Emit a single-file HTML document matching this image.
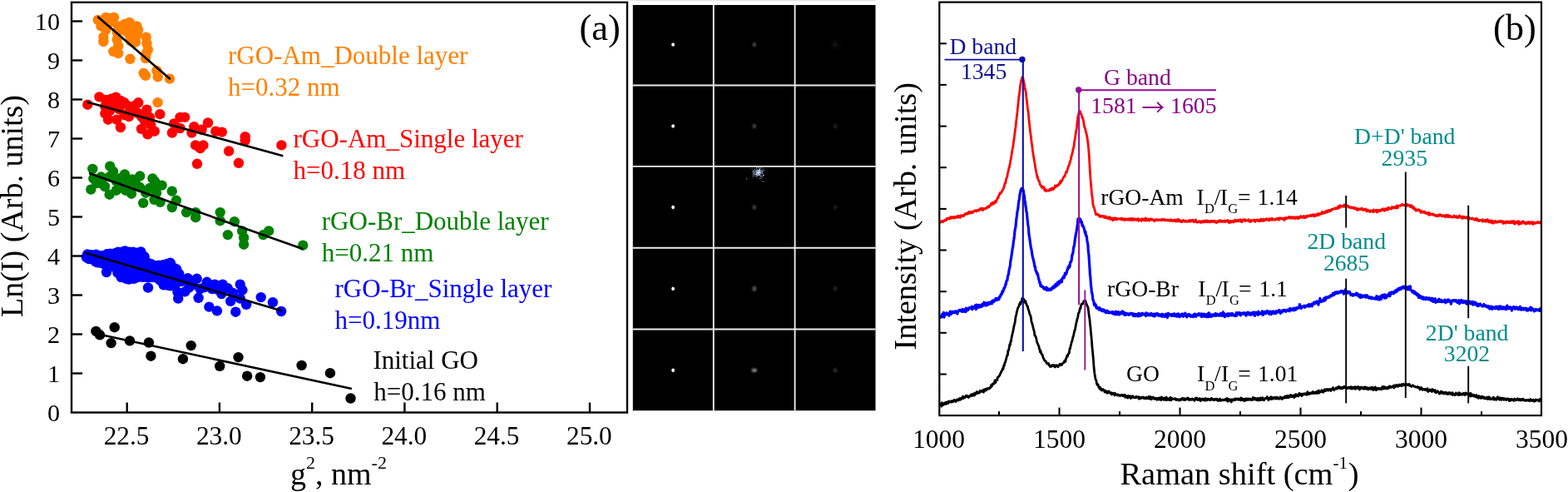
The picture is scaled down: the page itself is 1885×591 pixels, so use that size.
<!DOCTYPE html>
<html><head><meta charset="utf-8"><title>Figure</title>
<style>html,body{margin:0;padding:0;background:#fff;overflow:hidden;}svg{display:block;}text{font-family:'Liberation Serif','Times New Roman',serif;}</style>
</head><body>
<svg width="1885" height="591" viewBox="0 0 1885 591" font-family="'Liberation Serif','Times New Roman',serif">
<rect width="1885" height="591" fill="#fff"/>
<g id="panelA">
<g fill="#FF8000"><circle cx="117.7" cy="23.9" r="6.2"/><circle cx="127.3" cy="20.9" r="6.2"/><circle cx="121.4" cy="31.4" r="6.2"/><circle cx="127.3" cy="35.8" r="6.2"/><circle cx="124.4" cy="44.7" r="6.2"/><circle cx="124.4" cy="50.0" r="6.2"/><circle cx="137.0" cy="20.9" r="6.2"/><circle cx="142.2" cy="31.4" r="6.2"/><circle cx="140.7" cy="38.8" r="6.2"/><circle cx="140.7" cy="47.7" r="6.2"/><circle cx="142.2" cy="55.2" r="6.2"/><circle cx="136.3" cy="61.9" r="6.2"/><circle cx="142.2" cy="64.1" r="6.2"/><circle cx="132.0" cy="27.0" r="6.2"/><circle cx="133.0" cy="22.0" r="6.2"/><circle cx="155.6" cy="26.9" r="6.2"/><circle cx="164.5" cy="31.4" r="6.2"/><circle cx="151.1" cy="37.3" r="6.2"/><circle cx="155.6" cy="41.8" r="6.2"/><circle cx="164.5" cy="41.8" r="6.2"/><circle cx="163.1" cy="50.7" r="6.2"/><circle cx="157.1" cy="49.2" r="6.2"/><circle cx="160.0" cy="35.0" r="6.2"/><circle cx="150.0" cy="29.0" r="6.2"/><circle cx="158.0" cy="31.0" r="6.2"/><circle cx="166.0" cy="36.0" r="6.2"/><circle cx="156.4" cy="70.8" r="6.2"/><circle cx="175.7" cy="44.7" r="6.2"/><circle cx="176.4" cy="52.2" r="6.2"/><circle cx="177.9" cy="59.6" r="6.2"/><circle cx="175.0" cy="70.1" r="6.2"/><circle cx="176.0" cy="64.0" r="6.2"/><circle cx="172.7" cy="87.9" r="6.2"/><circle cx="175.0" cy="90.9" r="6.2"/><circle cx="188.4" cy="84.9" r="6.2"/><circle cx="189.8" cy="92.4" r="6.2"/><circle cx="204.0" cy="94.6" r="6.2"/><circle cx="189.6" cy="123.1" r="6.2"/></g>
<g fill="#FF0000"><circle cx="105.3" cy="125.7" r="6.2"/><circle cx="119.4" cy="116.4" r="6.2"/><circle cx="133.7" cy="118.6" r="6.2"/><circle cx="139.3" cy="116.7" r="6.2"/><circle cx="126.3" cy="127.9" r="6.2"/><circle cx="126.3" cy="136.3" r="6.2"/><circle cx="130.0" cy="143.7" r="6.2"/><circle cx="136.5" cy="124.2" r="6.2"/><circle cx="140.2" cy="143.7" r="6.2"/><circle cx="144.9" cy="153.0" r="6.2"/><circle cx="149.5" cy="123.3" r="6.2"/><circle cx="149.5" cy="138.1" r="6.2"/><circle cx="155.1" cy="127.9" r="6.2"/><circle cx="160.7" cy="132.6" r="6.2"/><circle cx="166.3" cy="123.3" r="6.2"/><circle cx="166.3" cy="136.3" r="6.2"/><circle cx="176.5" cy="131.6" r="6.2"/><circle cx="173.7" cy="144.7" r="6.2"/><circle cx="181.2" cy="150.2" r="6.2"/><circle cx="170.0" cy="154.9" r="6.2"/><circle cx="177.5" cy="161.4" r="6.2"/><circle cx="185.8" cy="157.7" r="6.2"/><circle cx="192.3" cy="137.2" r="6.2"/><circle cx="206.9" cy="159.5" r="6.2"/><circle cx="209.1" cy="148.4" r="6.2"/><circle cx="216.5" cy="140.9" r="6.2"/><circle cx="222.1" cy="140.9" r="6.2"/><circle cx="216.5" cy="154.0" r="6.2"/><circle cx="233.3" cy="152.1" r="6.2"/><circle cx="230.5" cy="159.5" r="6.2"/><circle cx="242.6" cy="155.8" r="6.2"/><circle cx="250.0" cy="147.5" r="6.2"/><circle cx="259.3" cy="157.7" r="6.2"/><circle cx="266.8" cy="158.6" r="6.2"/><circle cx="235.1" cy="174.4" r="6.2"/><circle cx="244.4" cy="174.4" r="6.2"/><circle cx="240.7" cy="178.2" r="6.2"/><circle cx="237.0" cy="196.8" r="6.2"/><circle cx="275.1" cy="181.5" r="6.2"/><circle cx="294.7" cy="164.2" r="6.2"/><circle cx="294.7" cy="168.8" r="6.2"/><circle cx="286.9" cy="195.8" r="6.2"/><circle cx="338.4" cy="174.4" r="6.2"/><circle cx="132.0" cy="133.0" r="6.2"/><circle cx="143.0" cy="131.0" r="6.2"/><circle cx="155.0" cy="140.0" r="6.2"/><circle cx="162.0" cy="127.0" r="6.2"/><circle cx="170.0" cy="140.0" r="6.2"/><circle cx="180.0" cy="141.0" r="6.2"/><circle cx="145.0" cy="121.0" r="6.2"/><circle cx="127.0" cy="120.0" r="6.2"/></g>
<g fill="#008000"><circle cx="111.3" cy="202.9" r="6.2"/><circle cx="132.2" cy="199.6" r="6.2"/><circle cx="112.3" cy="214.4" r="6.2"/><circle cx="109.3" cy="227.6" r="6.2"/><circle cx="121.5" cy="212.4" r="6.2"/><circle cx="122.5" cy="220.5" r="6.2"/><circle cx="131.6" cy="212.4" r="6.2"/><circle cx="131.6" cy="233.7" r="6.2"/><circle cx="139.8" cy="217.5" r="6.2"/><circle cx="139.8" cy="228.7" r="6.2"/><circle cx="149.9" cy="209.4" r="6.2"/><circle cx="150.9" cy="228.7" r="6.2"/><circle cx="159.0" cy="215.5" r="6.2"/><circle cx="158.0" cy="232.7" r="6.2"/><circle cx="168.2" cy="211.4" r="6.2"/><circle cx="163.1" cy="220.5" r="6.2"/><circle cx="172.2" cy="243.9" r="6.2"/><circle cx="175.3" cy="231.7" r="6.2"/><circle cx="183.4" cy="214.4" r="6.2"/><circle cx="187.5" cy="220.5" r="6.2"/><circle cx="194.6" cy="222.6" r="6.2"/><circle cx="185.5" cy="239.8" r="6.2"/><circle cx="192.6" cy="242.9" r="6.2"/><circle cx="206.8" cy="229.7" r="6.2"/><circle cx="211.9" cy="240.8" r="6.2"/><circle cx="206.8" cy="249.0" r="6.2"/><circle cx="224.0" cy="255.1" r="6.2"/><circle cx="235.2" cy="255.1" r="6.2"/><circle cx="235.2" cy="261.2" r="6.2"/><circle cx="264.7" cy="255.1" r="6.2"/><circle cx="264.7" cy="265.2" r="6.2"/><circle cx="281.9" cy="266.2" r="6.2"/><circle cx="273.8" cy="282.1" r="6.2"/><circle cx="291.1" cy="277.4" r="6.2"/><circle cx="293.1" cy="285.5" r="6.2"/><circle cx="293.1" cy="293.7" r="6.2"/><circle cx="316.4" cy="282.1" r="6.2"/><circle cx="323.1" cy="277.4" r="6.2"/><circle cx="364.2" cy="294.7" r="6.2"/><circle cx="116.0" cy="220.0" r="6.2"/><circle cx="126.0" cy="224.0" r="6.2"/><circle cx="145.0" cy="222.0" r="6.2"/><circle cx="154.0" cy="220.0" r="6.2"/><circle cx="168.0" cy="225.0" r="6.2"/><circle cx="180.0" cy="226.0" r="6.2"/><circle cx="188.0" cy="232.0" r="6.2"/><circle cx="145.0" cy="214.0" r="6.2"/><circle cx="136.0" cy="206.0" r="6.2"/><circle cx="186.0" cy="218.0" r="6.2"/></g>
<g fill="#0000FF"><circle cx="103.8" cy="309.0" r="6.2"/><circle cx="106.9" cy="311.0" r="6.2"/><circle cx="117.1" cy="315.4" r="6.2"/><circle cx="121.3" cy="308.3" r="6.2"/><circle cx="128.1" cy="307.8" r="6.2"/><circle cx="138.2" cy="306.9" r="6.2"/><circle cx="137.4" cy="320.5" r="6.2"/><circle cx="145.8" cy="319.7" r="6.2"/><circle cx="150.0" cy="305.2" r="6.2"/><circle cx="159.4" cy="305.8" r="6.2"/><circle cx="168.7" cy="306.9" r="6.2"/><circle cx="172.9" cy="310.7" r="6.2"/><circle cx="148.4" cy="330.7" r="6.2"/><circle cx="156.0" cy="331.5" r="6.2"/><circle cx="162.7" cy="330.1" r="6.2"/><circle cx="157.7" cy="325.6" r="6.2"/><circle cx="166.1" cy="318.8" r="6.2"/><circle cx="178.0" cy="317.1" r="6.2"/><circle cx="174.6" cy="330.7" r="6.2"/><circle cx="188.1" cy="321.0" r="6.2"/><circle cx="189.8" cy="333.7" r="6.2"/><circle cx="196.6" cy="340.5" r="6.2"/><circle cx="205.0" cy="317.4" r="6.2"/><circle cx="211.8" cy="323.1" r="6.2"/><circle cx="215.2" cy="329.0" r="6.2"/><circle cx="206.7" cy="339.1" r="6.2"/><circle cx="105.2" cy="305.5" r="6.2"/><circle cx="106.6" cy="309.5" r="6.2"/><circle cx="109.7" cy="306.2" r="6.2"/><circle cx="110.5" cy="311.1" r="6.2"/><circle cx="115.5" cy="305.8" r="6.2"/><circle cx="114.8" cy="310.4" r="6.2"/><circle cx="114.9" cy="314.4" r="6.2"/><circle cx="120.0" cy="307.8" r="6.2"/><circle cx="119.1" cy="311.7" r="6.2"/><circle cx="119.9" cy="315.5" r="6.2"/><circle cx="123.0" cy="307.1" r="6.2"/><circle cx="123.6" cy="311.2" r="6.2"/><circle cx="124.8" cy="317.2" r="6.2"/><circle cx="128.4" cy="305.3" r="6.2"/><circle cx="127.6" cy="309.6" r="6.2"/><circle cx="128.2" cy="312.9" r="6.2"/><circle cx="128.8" cy="319.0" r="6.2"/><circle cx="132.4" cy="304.6" r="6.2"/><circle cx="132.6" cy="309.8" r="6.2"/><circle cx="133.4" cy="313.7" r="6.2"/><circle cx="133.7" cy="319.6" r="6.2"/><circle cx="137.9" cy="304.5" r="6.2"/><circle cx="137.4" cy="310.2" r="6.2"/><circle cx="138.3" cy="314.6" r="6.2"/><circle cx="138.2" cy="321.0" r="6.2"/><circle cx="142.0" cy="302.6" r="6.2"/><circle cx="142.4" cy="307.7" r="6.2"/><circle cx="142.7" cy="312.4" r="6.2"/><circle cx="142.1" cy="317.5" r="6.2"/><circle cx="142.2" cy="321.8" r="6.2"/><circle cx="141.4" cy="327.7" r="6.2"/><circle cx="147.0" cy="302.8" r="6.2"/><circle cx="147.3" cy="307.2" r="6.2"/><circle cx="147.2" cy="312.2" r="6.2"/><circle cx="147.4" cy="318.2" r="6.2"/><circle cx="146.7" cy="324.0" r="6.2"/><circle cx="147.1" cy="328.7" r="6.2"/><circle cx="145.6" cy="333.0" r="6.2"/><circle cx="150.2" cy="301.4" r="6.2"/><circle cx="150.4" cy="307.4" r="6.2"/><circle cx="150.3" cy="311.0" r="6.2"/><circle cx="151.0" cy="316.8" r="6.2"/><circle cx="151.9" cy="321.3" r="6.2"/><circle cx="150.4" cy="325.7" r="6.2"/><circle cx="151.4" cy="329.4" r="6.2"/><circle cx="151.4" cy="334.7" r="6.2"/><circle cx="155.7" cy="302.7" r="6.2"/><circle cx="155.8" cy="307.1" r="6.2"/><circle cx="155.6" cy="311.1" r="6.2"/><circle cx="155.5" cy="315.6" r="6.2"/><circle cx="155.5" cy="321.1" r="6.2"/><circle cx="156.0" cy="325.5" r="6.2"/><circle cx="154.5" cy="330.4" r="6.2"/><circle cx="154.9" cy="335.5" r="6.2"/><circle cx="159.8" cy="302.6" r="6.2"/><circle cx="160.8" cy="307.8" r="6.2"/><circle cx="159.7" cy="313.0" r="6.2"/><circle cx="160.0" cy="317.7" r="6.2"/><circle cx="160.1" cy="324.6" r="6.2"/><circle cx="160.1" cy="329.5" r="6.2"/><circle cx="160.9" cy="334.9" r="6.2"/><circle cx="165.0" cy="303.6" r="6.2"/><circle cx="165.1" cy="307.5" r="6.2"/><circle cx="164.5" cy="312.8" r="6.2"/><circle cx="164.0" cy="318.3" r="6.2"/><circle cx="164.1" cy="323.5" r="6.2"/><circle cx="164.7" cy="327.5" r="6.2"/><circle cx="164.4" cy="333.2" r="6.2"/><circle cx="169.4" cy="302.5" r="6.2"/><circle cx="168.3" cy="308.3" r="6.2"/><circle cx="168.8" cy="313.6" r="6.2"/><circle cx="168.7" cy="317.6" r="6.2"/><circle cx="169.9" cy="322.6" r="6.2"/><circle cx="168.3" cy="327.6" r="6.2"/><circle cx="168.7" cy="332.5" r="6.2"/><circle cx="173.6" cy="308.3" r="6.2"/><circle cx="172.8" cy="312.3" r="6.2"/><circle cx="173.8" cy="318.3" r="6.2"/><circle cx="174.5" cy="321.9" r="6.2"/><circle cx="173.6" cy="328.4" r="6.2"/><circle cx="172.6" cy="332.8" r="6.2"/><circle cx="177.3" cy="315.5" r="6.2"/><circle cx="178.9" cy="320.8" r="6.2"/><circle cx="177.0" cy="325.7" r="6.2"/><circle cx="177.8" cy="333.1" r="6.2"/><circle cx="182.0" cy="317.3" r="6.2"/><circle cx="182.3" cy="321.6" r="6.2"/><circle cx="182.9" cy="326.9" r="6.2"/><circle cx="182.2" cy="332.9" r="6.2"/><circle cx="187.0" cy="319.5" r="6.2"/><circle cx="187.0" cy="322.7" r="6.2"/><circle cx="186.9" cy="328.7" r="6.2"/><circle cx="187.1" cy="333.3" r="6.2"/><circle cx="190.5" cy="318.7" r="6.2"/><circle cx="192.0" cy="325.1" r="6.2"/><circle cx="191.6" cy="330.8" r="6.2"/><circle cx="192.3" cy="336.6" r="6.2"/><circle cx="196.1" cy="318.2" r="6.2"/><circle cx="196.3" cy="322.5" r="6.2"/><circle cx="196.3" cy="327.9" r="6.2"/><circle cx="196.6" cy="332.4" r="6.2"/><circle cx="195.1" cy="337.3" r="6.2"/><circle cx="196.7" cy="342.3" r="6.2"/><circle cx="200.8" cy="317.0" r="6.2"/><circle cx="200.2" cy="322.8" r="6.2"/><circle cx="199.7" cy="328.2" r="6.2"/><circle cx="201.3" cy="333.5" r="6.2"/><circle cx="199.8" cy="336.9" r="6.2"/><circle cx="201.3" cy="342.6" r="6.2"/><circle cx="204.5" cy="316.1" r="6.2"/><circle cx="205.3" cy="321.0" r="6.2"/><circle cx="205.0" cy="327.4" r="6.2"/><circle cx="205.4" cy="331.5" r="6.2"/><circle cx="205.6" cy="337.7" r="6.2"/><circle cx="204.9" cy="343.4" r="6.2"/><circle cx="209.1" cy="322.0" r="6.2"/><circle cx="208.9" cy="325.8" r="6.2"/><circle cx="208.8" cy="330.5" r="6.2"/><circle cx="210.3" cy="335.5" r="6.2"/><circle cx="208.8" cy="339.5" r="6.2"/><circle cx="210.3" cy="343.1" r="6.2"/><circle cx="204.7" cy="315.8" r="6.2"/><circle cx="212.2" cy="324.0" r="6.2"/><circle cx="213.5" cy="330.7" r="6.2"/><circle cx="204.1" cy="340.2" r="6.2"/><circle cx="213.5" cy="351.0" r="6.2"/><circle cx="214.2" cy="358.5" r="6.2"/><circle cx="222.3" cy="350.4" r="6.2"/><circle cx="225.7" cy="334.1" r="6.2"/><circle cx="227.1" cy="345.6" r="6.2"/><circle cx="236.6" cy="334.8" r="6.2"/><circle cx="238.6" cy="357.8" r="6.2"/><circle cx="240.6" cy="347.0" r="6.2"/><circle cx="248.7" cy="338.8" r="6.2"/><circle cx="258.2" cy="341.6" r="6.2"/><circle cx="267.7" cy="341.6" r="6.2"/><circle cx="273.8" cy="346.3" r="6.2"/><circle cx="266.3" cy="353.1" r="6.2"/><circle cx="277.2" cy="361.9" r="6.2"/><circle cx="251.4" cy="368.6" r="6.2"/><circle cx="260.9" cy="373.4" r="6.2"/><circle cx="283.3" cy="374.7" r="6.2"/><circle cx="288.7" cy="341.6" r="6.2"/><circle cx="291.4" cy="348.3" r="6.2"/><circle cx="288.7" cy="358.5" r="6.2"/><circle cx="296.1" cy="365.9" r="6.2"/><circle cx="313.7" cy="357.1" r="6.2"/><circle cx="327.9" cy="363.2" r="6.2"/><circle cx="338.1" cy="374.0" r="6.2"/><circle cx="128.0" cy="327.0" r="6.2"/><circle cx="178.0" cy="345.5" r="6.2"/><circle cx="218.0" cy="338.0" r="6.2"/><circle cx="232.0" cy="342.0" r="6.2"/><circle cx="246.0" cy="345.0" r="6.2"/><circle cx="255.0" cy="347.0" r="6.2"/><circle cx="262.0" cy="348.0" r="6.2"/><circle cx="280.0" cy="352.0" r="6.2"/></g>
<g fill="#000000"><circle cx="115.4" cy="397.9" r="6.2"/><circle cx="120.0" cy="402.3" r="6.2"/><circle cx="137.7" cy="393.2" r="6.2"/><circle cx="133.6" cy="412.1" r="6.2"/><circle cx="156.0" cy="409.4" r="6.2"/><circle cx="178.9" cy="411.5" r="6.2"/><circle cx="181.4" cy="427.7" r="6.2"/><circle cx="219.9" cy="431.2" r="6.2"/><circle cx="229.7" cy="415.1" r="6.2"/><circle cx="264.2" cy="439.9" r="6.2"/><circle cx="286.5" cy="429.1" r="6.2"/><circle cx="297.1" cy="451.7" r="6.2"/><circle cx="312.9" cy="453.1" r="6.2"/><circle cx="362.6" cy="438.9" r="6.2"/><circle cx="396.9" cy="448.2" r="6.2"/><circle cx="421.5" cy="478.5" r="6.2"/></g>
<g stroke="#000" stroke-width="2.6" stroke-linecap="round"><line x1="118" y1="20.6" x2="204" y2="94.5"/><line x1="105.3" y1="122.7" x2="339.3" y2="187.1"/><line x1="108.3" y1="208.4" x2="363.2" y2="298.7"/><line x1="103.5" y1="303.9" x2="338.3" y2="373.3"/><line x1="124.5" y1="402.7" x2="421.9" y2="466.7"/></g>
<rect x="86.0" y="2.8" width="668.0" height="492.7" fill="none" stroke="#000" stroke-width="2.4"/>
<g stroke="#000" stroke-width="2.4"><line x1="86.0" y1="448.5" x2="99.0" y2="448.5"/><line x1="86.0" y1="401.5" x2="99.0" y2="401.5"/><line x1="86.0" y1="354.5" x2="99.0" y2="354.5"/><line x1="86.0" y1="307.5" x2="99.0" y2="307.5"/><line x1="86.0" y1="260.5" x2="99.0" y2="260.5"/><line x1="86.0" y1="213.5" x2="99.0" y2="213.5"/><line x1="86.0" y1="166.5" x2="99.0" y2="166.5"/><line x1="86.0" y1="119.5" x2="99.0" y2="119.5"/><line x1="86.0" y1="72.5" x2="99.0" y2="72.5"/><line x1="86.0" y1="25.5" x2="99.0" y2="25.5"/><line x1="152.7" y1="495.5" x2="152.7" y2="483.5"/><line x1="263.9" y1="495.5" x2="263.9" y2="483.5"/><line x1="375.2" y1="495.5" x2="375.2" y2="483.5"/><line x1="486.4" y1="495.5" x2="486.4" y2="483.5"/><line x1="597.7" y1="495.5" x2="597.7" y2="483.5"/><line x1="709.0" y1="495.5" x2="709.0" y2="483.5"/></g>
<g font-size="30.2" fill="#000"><text x="72" y="505.8" text-anchor="end">0</text><text x="72" y="458.8" text-anchor="end">1</text><text x="72" y="411.8" text-anchor="end">2</text><text x="72" y="364.8" text-anchor="end">3</text><text x="72" y="317.8" text-anchor="end">4</text><text x="72" y="270.8" text-anchor="end">5</text><text x="72" y="223.8" text-anchor="end">6</text><text x="72" y="176.8" text-anchor="end">7</text><text x="72" y="129.8" text-anchor="end">8</text><text x="72" y="82.8" text-anchor="end">9</text><text x="72" y="35.8" text-anchor="end">10</text></g>
<g font-size="31.3" fill="#000"><text x="152.1" y="534" text-anchor="middle">22.5</text><text x="263.3" y="534" text-anchor="middle">23.0</text><text x="374.6" y="534" text-anchor="middle">23.5</text><text x="485.8" y="534" text-anchor="middle">24.0</text><text x="597.1" y="534" text-anchor="middle">24.5</text><text x="708.4" y="534" text-anchor="middle">25.0</text></g>
<text x="349" y="581.6" font-size="38">g<tspan font-size="22" dy="-18.5">2</tspan><tspan dy="18.5">, nm</tspan><tspan font-size="22" dy="-18.5">-2</tspan></text>
<text transform="translate(27,381) rotate(-90)" font-size="38">Ln(I) (Arb. units)</text>
<text x="696.5" y="48.2" font-size="44.5">(a)</text>
<text x="274" y="77" font-size="31" fill="#FF8000">rGO-Am_Double layer</text>
<text x="274" y="114.6" font-size="31" fill="#FF8000">h=0.32 nm</text>
<text x="352.5" y="176.6" font-size="31" fill="#FF0000">rGO-Am_Single layer</text>
<text x="352.5" y="214.6" font-size="31" fill="#FF0000">h=0.18 nm</text>
<text x="386.8" y="276" font-size="31" fill="#008000">rGO-Br_Double layer</text>
<text x="386.8" y="314.2" font-size="31" fill="#008000">h=0.21 nm</text>
<text x="402.5" y="356.5" font-size="31" fill="#0000FF">rGO-Br_Single layer</text>
<text x="402.5" y="395.3" font-size="31" fill="#0000FF">h=0.19nm</text>
<text x="448.4" y="443.2" font-size="31" fill="#000">Initial GO</text>
<text x="449.2" y="481.1" font-size="31" fill="#000">h=0.16 nm</text>
</g>
<defs><radialGradient id="sp1"><stop offset="0" stop-color="#fff"/><stop offset="0.45" stop-color="#eee"/><stop offset="1" stop-color="#000" stop-opacity="0"/></radialGradient><radialGradient id="sp2"><stop offset="0" stop-color="#777"/><stop offset="1" stop-color="#000" stop-opacity="0"/></radialGradient><radialGradient id="sp3"><stop offset="0" stop-color="#161616"/><stop offset="1" stop-color="#000" stop-opacity="0"/></radialGradient><radialGradient id="spb"><stop offset="0" stop-color="#b8c8e8"/><stop offset="0.5" stop-color="#6a7fa8"/><stop offset="1" stop-color="#000" stop-opacity="0"/></radialGradient><filter id="bl" x="-1" y="-1" width="3" height="3"><feGaussianBlur stdDeviation="0.8"/></filter></defs>
<rect x="0" y="0" width="295.70000000000005" height="1.2" transform="translate(756.8,0)" fill="#e2e2e2"/>
<rect x="760.8" y="6.0" width="291.70000000000005" height="487.2" fill="#000"/>
<ellipse cx="809.1" cy="53.6" rx="3.0" ry="3.4" fill="url(#sp1)"/><ellipse cx="809.1" cy="53.6" rx="1.3" ry="1.6" fill="#fff"/><ellipse cx="906.8" cy="53.6" rx="2.2" ry="2.6" fill="#5a5a5a" opacity="0.9" filter="url(#bl)"/><circle cx="1004.2" cy="53.6" r="9" fill="url(#sp3)"/><ellipse cx="809.1" cy="151.5" rx="3.0" ry="3.4" fill="url(#sp1)"/><ellipse cx="809.1" cy="151.5" rx="1.3" ry="1.6" fill="#fff"/><ellipse cx="906.8" cy="151.5" rx="2.2" ry="3.0" fill="#4a4a4a" opacity="0.9" filter="url(#bl)"/><ellipse cx="1004.2" cy="151.5" rx="2.5" ry="3" fill="#1c1c1c" filter="url(#bl)"/><ellipse cx="809.1" cy="249.0" rx="3.0" ry="3.4" fill="url(#sp1)"/><ellipse cx="809.1" cy="249.0" rx="1.3" ry="1.6" fill="#fff"/><ellipse cx="906.8" cy="249.0" rx="2.2" ry="3.0" fill="#4a4a4a" opacity="0.9" filter="url(#bl)"/><ellipse cx="1004.2" cy="249.0" rx="2.5" ry="3" fill="#1a1a1a" filter="url(#bl)"/><ellipse cx="809.1" cy="346.8" rx="3.0" ry="3.4" fill="url(#sp1)"/><ellipse cx="809.1" cy="346.8" rx="1.3" ry="1.6" fill="#fff"/><ellipse cx="906.8" cy="346.8" rx="2.6" ry="3.2" fill="#5a5a5a" opacity="0.9" filter="url(#bl)"/><ellipse cx="1004.2" cy="346.8" rx="2.5" ry="3" fill="#202020" filter="url(#bl)"/><ellipse cx="809.1" cy="444.8" rx="3.0" ry="3.4" fill="url(#sp1)"/><ellipse cx="809.1" cy="444.8" rx="1.3" ry="1.6" fill="#fff"/><ellipse cx="906.8" cy="444.8" rx="3.4" ry="2.4" fill="#8a8a8a" opacity="0.9" filter="url(#bl)"/><ellipse cx="1004.2" cy="444.8" rx="2.6" ry="2.8" fill="#2c2c2c" filter="url(#bl)"/><rect x="911.2" y="206.5" width="1.1" height="1.1" fill="#7f96c4" opacity="0.8"/><rect x="912.8" y="208.2" width="1.1" height="1.1" fill="#b0c2e6" opacity="0.8"/><rect x="913.6" y="207.4" width="1.1" height="1.1" fill="#7f96c4" opacity="0.8"/><rect x="908.9" y="204.4" width="1.1" height="1.1" fill="#9fb4dc" opacity="0.8"/><rect x="904.2" y="206.0" width="1.1" height="1.1" fill="#7f96c4" opacity="0.8"/><rect x="911.8" y="206.9" width="1.1" height="1.1" fill="#b0c2e6" opacity="0.8"/><rect x="910.4" y="204.8" width="1.1" height="1.1" fill="#7f96c4" opacity="0.8"/><rect x="910.7" y="206.3" width="1.1" height="1.1" fill="#7f96c4" opacity="0.8"/><rect x="912.5" y="210.0" width="1.1" height="1.1" fill="#c8d6f0" opacity="0.8"/><rect x="909.5" y="208.7" width="1.1" height="1.1" fill="#7f96c4" opacity="0.8"/><rect x="911.7" y="209.9" width="1.1" height="1.1" fill="#7f96c4" opacity="0.8"/><rect x="916.1" y="211.0" width="1.1" height="1.1" fill="#e0e8f8" opacity="0.8"/><rect x="910.7" y="210.2" width="1.1" height="1.1" fill="#9fb4dc" opacity="0.8"/><rect x="909.8" y="207.2" width="1.1" height="1.1" fill="#9fb4dc" opacity="0.8"/><rect x="910.8" y="205.4" width="1.1" height="1.1" fill="#9fb4dc" opacity="0.8"/><rect x="911.6" y="207.3" width="1.1" height="1.1" fill="#c8d6f0" opacity="0.8"/><rect x="911.9" y="207.9" width="1.1" height="1.1" fill="#7f96c4" opacity="0.8"/><rect x="916.3" y="203.5" width="1.1" height="1.1" fill="#c8d6f0" opacity="0.8"/><rect x="909.3" y="209.4" width="1.1" height="1.1" fill="#e0e8f8" opacity="0.8"/><rect x="913.8" y="206.5" width="1.1" height="1.1" fill="#9fb4dc" opacity="0.8"/><rect x="909.1" y="201.2" width="1.1" height="1.1" fill="#e0e8f8" opacity="0.8"/><rect x="912.4" y="205.1" width="1.1" height="1.1" fill="#9fb4dc" opacity="0.8"/><rect x="909.2" y="211.6" width="1.1" height="1.1" fill="#e0e8f8" opacity="0.8"/><rect x="915.2" y="213.0" width="1.1" height="1.1" fill="#c8d6f0" opacity="0.8"/><rect x="912.0" y="205.6" width="1.1" height="1.1" fill="#9fb4dc" opacity="0.8"/><rect x="911.4" y="206.4" width="1.1" height="1.1" fill="#7f96c4" opacity="0.8"/><rect x="915.9" y="208.1" width="1.1" height="1.1" fill="#9fb4dc" opacity="0.8"/><rect x="911.9" y="206.6" width="1.1" height="1.1" fill="#7f96c4" opacity="0.8"/><rect x="912.3" y="208.5" width="1.1" height="1.1" fill="#b0c2e6" opacity="0.8"/><rect x="911.2" y="207.2" width="1.1" height="1.1" fill="#9fb4dc" opacity="0.8"/><rect x="905.6" y="206.7" width="1.1" height="1.1" fill="#c8d6f0" opacity="0.8"/><rect x="909.8" y="209.9" width="1.1" height="1.1" fill="#e0e8f8" opacity="0.8"/><rect x="911.8" y="206.4" width="1.1" height="1.1" fill="#c8d6f0" opacity="0.8"/><rect x="906.1" y="208.5" width="1.1" height="1.1" fill="#e0e8f8" opacity="0.8"/><rect x="911.3" y="201.1" width="1.1" height="1.1" fill="#e0e8f8" opacity="0.8"/><rect x="906.4" y="209.6" width="1.1" height="1.1" fill="#9fb4dc" opacity="0.8"/><rect x="915.3" y="201.3" width="1.1" height="1.1" fill="#c8d6f0" opacity="0.8"/><rect x="910.0" y="204.5" width="1.1" height="1.1" fill="#b0c2e6" opacity="0.8"/><rect x="913.4" y="209.0" width="1.1" height="1.1" fill="#7f96c4" opacity="0.8"/><rect x="910.5" y="206.8" width="1.1" height="1.1" fill="#b0c2e6" opacity="0.8"/><rect x="912.8" y="205.5" width="1.1" height="1.1" fill="#9fb4dc" opacity="0.8"/><rect x="910.8" y="207.2" width="1.1" height="1.1" fill="#b0c2e6" opacity="0.8"/><rect x="913.6" y="206.5" width="1.1" height="1.1" fill="#9fb4dc" opacity="0.8"/><rect x="907.3" y="211.2" width="1.1" height="1.1" fill="#9fb4dc" opacity="0.8"/><rect x="913.1" y="204.9" width="1.1" height="1.1" fill="#c8d6f0" opacity="0.8"/><rect x="909.3" y="206.5" width="1.1" height="1.1" fill="#b0c2e6" opacity="0.8"/><rect x="906.7" y="203.0" width="1.1" height="1.1" fill="#c8d6f0" opacity="0.8"/><rect x="913.6" y="208.3" width="1.1" height="1.1" fill="#c8d6f0" opacity="0.8"/><rect x="908.9" y="203.9" width="1.1" height="1.1" fill="#9fb4dc" opacity="0.8"/><rect x="910.9" y="207.1" width="1.1" height="1.1" fill="#c8d6f0" opacity="0.8"/><rect x="911.4" y="206.6" width="1.1" height="1.1" fill="#e0e8f8" opacity="0.8"/><rect x="912.5" y="207.4" width="1.1" height="1.1" fill="#c8d6f0" opacity="0.8"/><rect x="905.2" y="204.2" width="1.1" height="1.1" fill="#b0c2e6" opacity="0.8"/><rect x="910.6" y="204.2" width="1.1" height="1.1" fill="#e0e8f8" opacity="0.8"/><rect x="913.5" y="201.4" width="1.1" height="1.1" fill="#e0e8f8" opacity="0.8"/><rect x="910.9" y="206.6" width="1.1" height="1.1" fill="#b0c2e6" opacity="0.8"/><rect x="912.5" y="203.6" width="1.1" height="1.1" fill="#b0c2e6" opacity="0.8"/><rect x="911.6" y="204.2" width="1.1" height="1.1" fill="#b0c2e6" opacity="0.8"/><rect x="911.7" y="205.5" width="1.1" height="1.1" fill="#c8d6f0" opacity="0.8"/><rect x="911.1" y="206.7" width="1.1" height="1.1" fill="#c8d6f0" opacity="0.8"/><rect x="910.3" y="210.9" width="1.1" height="1.1" fill="#7f96c4" opacity="0.8"/><rect x="911.6" y="209.5" width="1.1" height="1.1" fill="#b0c2e6" opacity="0.8"/><rect x="909.2" y="208.9" width="1.1" height="1.1" fill="#e0e8f8" opacity="0.8"/><rect x="912.5" y="203.3" width="1.1" height="1.1" fill="#b0c2e6" opacity="0.8"/><rect x="909.4" y="205.9" width="1.1" height="1.1" fill="#7f96c4" opacity="0.8"/><rect x="911.4" y="207.3" width="1.1" height="1.1" fill="#b0c2e6" opacity="0.8"/><rect x="917.1" y="210.0" width="1.1" height="1.1" fill="#b0c2e6" opacity="0.8"/><rect x="914.8" y="207.1" width="1.1" height="1.1" fill="#c8d6f0" opacity="0.8"/><rect x="912.1" y="204.7" width="1.1" height="1.1" fill="#e0e8f8" opacity="0.8"/><rect x="912.6" y="205.8" width="1.1" height="1.1" fill="#b0c2e6" opacity="0.8"/><rect x="911.3" y="206.9" width="1.1" height="1.1" fill="#c8d6f0" opacity="0.8"/><rect x="911.4" y="204.4" width="1.1" height="1.1" fill="#b0c2e6" opacity="0.8"/><rect x="911.7" y="206.9" width="1.1" height="1.1" fill="#b0c2e6" opacity="0.8"/><rect x="911.3" y="204.1" width="1.1" height="1.1" fill="#e0e8f8" opacity="0.8"/><rect x="912.2" y="202.9" width="1.1" height="1.1" fill="#9fb4dc" opacity="0.8"/><rect x="912.2" y="206.8" width="1.1" height="1.1" fill="#7f96c4" opacity="0.8"/><rect x="911.9" y="205.4" width="1.1" height="1.1" fill="#c8d6f0" opacity="0.8"/><rect x="907.5" y="206.6" width="1.1" height="1.1" fill="#b0c2e6" opacity="0.8"/><rect x="911.6" y="206.6" width="1.1" height="1.1" fill="#7f96c4" opacity="0.8"/><rect x="917.4" y="210.0" width="1.1" height="1.1" fill="#e0e8f8" opacity="0.8"/><rect x="904.7" y="208.3" width="1.1" height="1.1" fill="#c8d6f0" opacity="0.8"/><rect x="915.7" y="211.1" width="1.1" height="1.1" fill="#7f96c4" opacity="0.8"/><rect x="907.5" y="208.6" width="1.1" height="1.1" fill="#c8d6f0" opacity="0.8"/><rect x="907.0" y="206.2" width="1.1" height="1.1" fill="#7f96c4" opacity="0.8"/><rect x="912.9" y="206.6" width="1.1" height="1.1" fill="#e0e8f8" opacity="0.8"/><rect x="915.7" y="205.9" width="1.1" height="1.1" fill="#9fb4dc" opacity="0.8"/><rect x="913.7" y="206.4" width="1.1" height="1.1" fill="#9fb4dc" opacity="0.8"/><rect x="904.6" y="209.9" width="1.1" height="1.1" fill="#7f96c4" opacity="0.8"/><rect x="910.9" y="204.4" width="1.1" height="1.1" fill="#e0e8f8" opacity="0.8"/><rect x="911.4" y="207.0" width="1.1" height="1.1" fill="#7f96c4" opacity="0.8"/><rect x="907.5" y="208.9" width="1.1" height="1.1" fill="#7f96c4" opacity="0.8"/><rect x="917.5" y="209.5" width="1.1" height="1.1" fill="#b0c2e6" opacity="0.8"/><rect x="908.9" y="209.1" width="1.1" height="1.1" fill="#e0e8f8" opacity="0.8"/><rect x="916.1" y="208.0" width="1.1" height="1.1" fill="#7f96c4" opacity="0.8"/><rect x="904.8" y="211.7" width="1.1" height="1.1" fill="#b0c2e6" opacity="0.8"/><rect x="913.3" y="206.8" width="1.1" height="1.1" fill="#b0c2e6" opacity="0.8"/><rect x="908.9" y="207.2" width="1.1" height="1.1" fill="#e0e8f8" opacity="0.8"/><rect x="909.3" y="208.7" width="1.1" height="1.1" fill="#e0e8f8" opacity="0.8"/><rect x="912.3" y="206.1" width="1.1" height="1.1" fill="#c8d6f0" opacity="0.8"/><rect x="908.4" y="209.6" width="1.1" height="1.1" fill="#7f96c4" opacity="0.8"/><rect x="909.7" y="205.7" width="1.1" height="1.1" fill="#e0e8f8" opacity="0.8"/><rect x="912.6" y="203.7" width="1.1" height="1.1" fill="#9fb4dc" opacity="0.8"/><rect x="909.7" y="207.0" width="1.1" height="1.1" fill="#b0c2e6" opacity="0.8"/><rect x="913.9" y="204.1" width="1.1" height="1.1" fill="#9fb4dc" opacity="0.8"/><rect x="903.5" y="201.7" width="1.1" height="1.1" fill="#9fb4dc" opacity="0.8"/><rect x="913.8" y="211.3" width="1.1" height="1.1" fill="#b0c2e6" opacity="0.8"/><rect x="910.9" y="204.2" width="1.1" height="1.1" fill="#9fb4dc" opacity="0.8"/><rect x="909.1" y="206.5" width="1.1" height="1.1" fill="#c8d6f0" opacity="0.8"/><rect x="916.8" y="205.5" width="1.1" height="1.1" fill="#e0e8f8" opacity="0.8"/><rect x="914.3" y="210.6" width="1.1" height="1.1" fill="#9fb4dc" opacity="0.8"/><rect x="909.4" y="206.6" width="1.1" height="1.1" fill="#7f96c4" opacity="0.8"/><rect x="910.4" y="205.9" width="1.1" height="1.1" fill="#c8d6f0" opacity="0.8"/><rect x="911.9" y="207.0" width="1.1" height="1.1" fill="#e0e8f8" opacity="0.8"/><rect x="910.6" y="206.1" width="1.1" height="1.1" fill="#9fb4dc" opacity="0.8"/><rect x="912.0" y="206.1" width="1.1" height="1.1" fill="#7f96c4" opacity="0.8"/><rect x="912.9" y="202.3" width="1.1" height="1.1" fill="#e0e8f8" opacity="0.8"/><rect x="904.4" y="205.6" width="1.1" height="1.1" fill="#7f96c4" opacity="0.8"/><rect x="912.9" y="206.9" width="1.1" height="1.1" fill="#c8d6f0" opacity="0.8"/><rect x="911.4" y="207.7" width="1.1" height="1.1" fill="#9fb4dc" opacity="0.8"/><rect x="909.8" y="208.1" width="1.1" height="1.1" fill="#9fb4dc" opacity="0.8"/><rect x="911.9" y="207.3" width="1.1" height="1.1" fill="#b0c2e6" opacity="0.8"/><rect x="906.2" y="205.6" width="1.1" height="1.1" fill="#9fb4dc" opacity="0.8"/><rect x="897.0" y="214.1" width="1.1" height="1.1" fill="#b0c2e6" opacity="0.8"/><rect x="912.8" y="206.7" width="1.1" height="1.1" fill="#b0c2e6" opacity="0.8"/><rect x="912.6" y="213.9" width="1.1" height="1.1" fill="#9fb4dc" opacity="0.8"/><rect x="911.3" y="206.6" width="1.1" height="1.1" fill="#9fb4dc" opacity="0.8"/><rect x="908.7" y="205.5" width="1.1" height="1.1" fill="#7f96c4" opacity="0.8"/><rect x="916.8" y="217.5" width="1.1" height="1.1" fill="#e0e8f8" opacity="0.8"/><rect x="915.6" y="206.6" width="1.1" height="1.1" fill="#c8d6f0" opacity="0.8"/><rect x="908.4" y="208.8" width="1.1" height="1.1" fill="#c8d6f0" opacity="0.8"/><rect x="908.1" y="205.5" width="1.1" height="1.1" fill="#c8d6f0" opacity="0.8"/><rect x="912.3" y="210.0" width="1.1" height="1.1" fill="#b0c2e6" opacity="0.8"/><rect x="911.4" y="205.8" width="1.1" height="1.1" fill="#c8d6f0" opacity="0.8"/><rect x="915.0" y="204.7" width="1.1" height="1.1" fill="#e0e8f8" opacity="0.8"/><rect x="911.6" y="206.5" width="1.1" height="1.1" fill="#e0e8f8" opacity="0.8"/><rect x="910.5" y="204.5" width="1.1" height="1.1" fill="#9fb4dc" opacity="0.8"/><rect x="905.6" y="206.1" width="1.1" height="1.1" fill="#9fb4dc" opacity="0.8"/><rect x="909.8" y="203.6" width="1.1" height="1.1" fill="#b0c2e6" opacity="0.8"/><rect x="911.4" y="209.1" width="1.1" height="1.1" fill="#c8d6f0" opacity="0.8"/><rect x="907.5" y="208.9" width="1.1" height="1.1" fill="#b0c2e6" opacity="0.8"/><rect x="911.9" y="205.7" width="1.1" height="1.1" fill="#9fb4dc" opacity="0.8"/><rect x="911.4" y="208.0" width="1.1" height="1.1" fill="#c8d6f0" opacity="0.8"/><rect x="911.8" y="205.6" width="1.1" height="1.1" fill="#e0e8f8" opacity="0.8"/><rect x="913.4" y="213.9" width="1.1" height="1.1" fill="#9fb4dc" opacity="0.8"/><rect x="906.8" y="204.0" width="1.1" height="1.1" fill="#9fb4dc" opacity="0.8"/><rect x="911.5" y="206.6" width="1.1" height="1.1" fill="#c8d6f0" opacity="0.8"/><rect x="912.0" y="206.6" width="1.1" height="1.1" fill="#9fb4dc" opacity="0.8"/><rect x="911.0" y="208.3" width="1.1" height="1.1" fill="#c8d6f0" opacity="0.8"/><rect x="910.7" y="205.2" width="1.1" height="1.1" fill="#7f96c4" opacity="0.8"/><rect x="910.4" y="207.4" width="1.1" height="1.1" fill="#e0e8f8" opacity="0.8"/><rect x="912.3" y="203.5" width="1.1" height="1.1" fill="#b0c2e6" opacity="0.8"/><rect x="912.5" y="208.7" width="1.1" height="1.1" fill="#b0c2e6" opacity="0.8"/><rect x="911.3" y="206.1" width="1.1" height="1.1" fill="#c8d6f0" opacity="0.8"/><rect x="909.1" y="207.6" width="1.1" height="1.1" fill="#e0e8f8" opacity="0.8"/><rect x="911.8" y="206.2" width="1.1" height="1.1" fill="#c8d6f0" opacity="0.8"/><rect x="909.0" y="201.7" width="1.1" height="1.1" fill="#b0c2e6" opacity="0.8"/><rect x="911.2" y="206.8" width="1.1" height="1.1" fill="#e0e8f8" opacity="0.8"/><rect x="910.9" y="204.7" width="1.1" height="1.1" fill="#7f96c4" opacity="0.8"/><rect x="912.5" y="205.0" width="1.1" height="1.1" fill="#b0c2e6" opacity="0.8"/><rect x="917.9" y="203.6" width="1.1" height="1.1" fill="#c8d6f0" opacity="0.8"/><rect x="912.0" y="204.8" width="1.1" height="1.1" fill="#9fb4dc" opacity="0.8"/><rect x="908.9" y="206.3" width="1.1" height="1.1" fill="#9fb4dc" opacity="0.8"/><rect x="914.1" y="204.2" width="1.1" height="1.1" fill="#7f96c4" opacity="0.8"/><rect x="909.0" y="204.2" width="1.1" height="1.1" fill="#9fb4dc" opacity="0.8"/><rect x="912.6" y="204.6" width="1.1" height="1.1" fill="#e0e8f8" opacity="0.8"/><rect x="913.7" y="211.3" width="1.1" height="1.1" fill="#7f96c4" opacity="0.8"/>
<g stroke="#ececec" stroke-width="1.9"><line x1="857.8" y1="6.0" x2="857.8" y2="493.2"/><line x1="955.6" y1="6.0" x2="955.6" y2="493.2"/><line x1="760.8" y1="102.5" x2="1052.5" y2="102.5"/><line x1="760.8" y1="199.9" x2="1052.5" y2="199.9"/><line x1="760.8" y1="297.7" x2="1052.5" y2="297.7"/><line x1="760.8" y1="395.5" x2="1052.5" y2="395.5"/></g>
<g id="panelB">
<path d="M1129.9,267.3 L1130.4,267.3 L1130.9,266.6 L1131.4,265.9 L1131.9,266.0 L1132.4,265.4 L1132.9,266.0 L1133.4,266.8 L1133.9,265.2 L1134.4,264.9 L1134.9,265.5 L1135.4,265.2 L1135.9,264.8 L1136.4,263.9 L1136.9,264.3 L1137.4,264.7 L1137.9,263.0 L1138.4,263.5 L1138.9,262.2 L1139.4,262.5 L1139.9,261.9 L1140.4,262.9 L1140.9,262.0 L1141.4,263.0 L1141.9,262.8 L1142.4,262.4 L1142.9,260.5 L1143.4,261.8 L1143.9,262.0 L1144.4,262.0 L1144.9,260.6 L1145.4,261.3 L1145.9,260.8 L1146.4,260.8 L1146.9,262.1 L1147.4,260.6 L1147.9,261.1 L1148.4,261.7 L1148.9,260.5 L1149.4,260.8 L1149.9,260.9 L1150.4,260.7 L1150.9,259.7 L1151.4,260.6 L1151.9,261.4 L1152.4,259.1 L1152.9,260.9 L1153.4,260.2 L1153.9,259.5 L1154.4,261.4 L1154.9,260.3 L1155.4,258.7 L1155.9,259.5 L1156.4,259.8 L1156.9,259.0 L1157.4,259.5 L1157.9,258.7 L1158.4,259.0 L1158.9,259.3 L1159.4,257.5 L1159.9,257.9 L1160.4,257.2 L1160.9,257.4 L1161.4,256.2 L1161.9,256.5 L1162.4,256.6 L1162.9,257.2 L1163.4,257.2 L1163.9,255.2 L1164.4,255.4 L1164.9,256.3 L1165.4,254.2 L1165.9,255.1 L1166.4,255.2 L1166.9,256.1 L1167.4,255.5 L1167.9,254.6 L1168.4,254.4 L1168.9,254.3 L1169.4,255.5 L1169.9,253.9 L1170.4,253.8 L1170.9,254.1 L1171.4,253.6 L1171.9,253.4 L1172.4,252.6 L1172.9,253.3 L1173.4,252.8 L1173.9,253.9 L1174.4,253.3 L1174.9,252.7 L1175.4,253.1 L1175.9,252.2 L1176.4,253.1 L1176.9,252.1 L1177.4,252.5 L1177.9,250.9 L1178.4,252.0 L1178.9,250.4 L1179.4,250.0 L1179.9,251.2 L1180.4,250.7 L1180.9,251.4 L1181.4,252.8 L1181.9,250.4 L1182.4,250.5 L1182.9,251.0 L1183.4,251.1 L1183.9,250.4 L1184.4,250.3 L1184.9,250.8 L1185.4,250.5 L1185.9,249.1 L1186.4,249.6 L1186.9,249.4 L1187.4,248.3 L1187.9,249.0 L1188.4,247.8 L1188.9,248.8 L1189.4,247.8 L1189.9,247.4 L1190.4,246.5 L1190.9,246.4 L1191.4,244.7 L1191.9,244.9 L1192.4,245.7 L1192.9,243.5 L1193.4,245.4 L1193.9,243.2 L1194.4,244.7 L1194.9,243.2 L1195.4,244.1 L1195.9,243.2 L1196.4,241.5 L1196.9,243.1 L1197.4,242.7 L1197.9,240.9 L1198.4,239.9 L1198.9,239.0 L1199.4,237.4 L1199.9,237.9 L1200.4,235.6 L1200.9,234.9 L1201.4,233.4 L1201.9,232.7 L1202.4,231.5 L1202.9,232.7 L1203.4,231.1 L1203.9,231.3 L1204.4,230.0 L1204.9,228.8 L1205.4,228.3 L1205.9,227.2 L1206.4,226.4 L1206.9,224.7 L1207.4,223.2 L1207.9,220.7 L1208.4,219.5 L1208.9,219.7 L1209.4,216.2 L1209.9,214.1 L1210.4,213.2 L1210.9,212.1 L1211.4,208.0 L1211.9,206.8 L1212.4,204.4 L1212.9,201.3 L1213.4,200.9 L1213.9,197.9 L1214.4,195.5 L1214.9,192.3 L1215.4,190.5 L1215.9,186.9 L1216.4,184.3 L1216.9,180.6 L1217.4,177.4 L1217.9,176.0 L1218.4,171.2 L1218.9,168.3 L1219.4,164.3 L1219.9,160.2 L1220.4,156.2 L1220.9,153.0 L1221.4,148.2 L1221.9,144.0 L1222.4,139.6 L1222.9,135.7 L1223.4,130.7 L1223.9,125.9 L1224.4,120.8 L1224.9,116.0 L1225.4,113.3 L1225.9,108.8 L1226.4,103.9 L1226.9,100.8 L1227.4,98.1 L1227.9,96.2 L1228.4,94.8 L1228.9,92.8 L1229.4,94.4 L1229.9,93.7 L1230.4,97.0 L1230.9,98.7 L1231.4,101.3 L1231.9,104.8 L1232.4,107.4 L1232.9,108.6 L1233.4,111.7 L1233.9,117.5 L1234.4,120.4 L1234.9,125.5 L1235.4,130.5 L1235.9,132.9 L1236.4,137.0 L1236.9,143.4 L1237.4,147.9 L1237.9,152.4 L1238.4,157.1 L1238.9,160.7 L1239.4,164.3 L1239.9,169.3 L1240.4,172.5 L1240.9,175.7 L1241.4,180.9 L1241.9,183.9 L1242.4,187.6 L1242.9,189.9 L1243.4,193.3 L1243.9,196.1 L1244.4,199.2 L1244.9,202.7 L1245.4,204.4 L1245.9,207.5 L1246.4,209.6 L1246.9,212.8 L1247.4,212.1 L1247.9,215.4 L1248.4,216.1 L1248.9,217.6 L1249.4,217.8 L1249.9,219.8 L1250.4,221.9 L1250.9,222.2 L1251.4,223.2 L1251.9,223.6 L1252.4,225.3 L1252.9,225.0 L1253.4,223.9 L1253.9,225.6 L1254.4,225.2 L1254.9,224.7 L1255.4,227.2 L1255.9,228.9 L1256.4,228.3 L1256.9,227.7 L1257.4,228.0 L1257.9,229.7 L1258.4,229.0 L1258.9,228.9 L1259.4,228.8 L1259.9,228.8 L1260.4,229.3 L1260.9,228.9 L1261.4,228.5 L1261.9,227.4 L1262.4,228.4 L1262.9,227.3 L1263.4,228.4 L1263.9,226.4 L1264.4,227.1 L1264.9,226.9 L1265.4,225.7 L1265.9,227.7 L1266.4,227.3 L1266.9,225.6 L1267.4,226.2 L1267.9,225.6 L1268.4,223.0 L1268.9,224.8 L1269.4,224.2 L1269.9,223.9 L1270.4,222.6 L1270.9,222.8 L1271.4,222.4 L1271.9,222.9 L1272.4,221.8 L1272.9,221.0 L1273.4,221.6 L1273.9,219.5 L1274.4,219.1 L1274.9,217.4 L1275.4,219.3 L1275.9,218.2 L1276.4,217.4 L1276.9,216.5 L1277.4,215.2 L1277.9,214.5 L1278.4,213.3 L1278.9,212.4 L1279.4,211.7 L1279.9,211.9 L1280.4,210.2 L1280.9,208.8 L1281.4,207.3 L1281.9,206.2 L1282.4,206.8 L1282.9,204.8 L1283.4,203.2 L1283.9,201.6 L1284.4,199.7 L1284.9,199.0 L1285.4,198.3 L1285.9,195.8 L1286.4,194.3 L1286.9,192.6 L1287.4,191.1 L1287.9,187.9 L1288.4,186.9 L1288.9,184.3 L1289.4,183.4 L1289.9,179.8 L1290.4,178.3 L1290.9,176.3 L1291.4,172.0 L1291.9,168.7 L1292.4,166.0 L1292.9,162.6 L1293.4,158.6 L1293.9,156.4 L1294.4,153.7 L1294.9,147.9 L1295.4,143.9 L1295.9,139.9 L1296.4,138.6 L1296.9,135.9 L1297.4,134.7 L1297.9,135.6 L1298.4,133.7 L1298.9,135.6 L1299.4,136.9 L1299.9,137.1 L1300.4,138.7 L1300.9,141.2 L1301.4,141.1 L1301.9,142.8 L1302.4,144.4 L1302.9,147.7 L1303.4,151.2 L1303.9,153.1 L1304.4,153.8 L1304.9,155.8 L1305.4,157.8 L1305.9,160.2 L1306.4,161.9 L1306.9,164.8 L1307.4,168.0 L1307.9,171.4 L1308.4,176.2 L1308.9,181.7 L1309.4,188.9 L1309.9,197.9 L1310.4,206.9 L1310.9,213.5 L1311.4,220.5 L1311.9,225.7 L1312.4,232.4 L1312.9,235.1 L1313.4,239.5 L1313.9,244.7 L1314.4,247.4 L1314.9,248.9 L1315.4,249.4 L1315.9,252.0 L1316.4,253.3 L1316.9,255.5 L1317.4,257.8 L1317.9,257.1 L1318.4,257.0 L1318.9,257.0 L1319.4,258.2 L1319.9,258.3 L1320.4,257.8 L1320.9,259.0 L1321.4,258.2 L1321.9,260.1 L1322.4,260.2 L1322.9,260.4 L1323.4,259.3 L1323.9,260.2 L1324.4,259.8 L1324.9,259.7 L1325.4,259.9 L1325.9,259.3 L1326.4,259.3 L1326.9,261.1 L1327.4,260.5 L1327.9,260.9 L1328.4,261.6 L1328.9,259.7 L1329.4,260.5 L1329.9,261.4 L1330.4,261.6 L1330.9,261.2 L1331.4,262.4 L1331.9,261.9 L1332.4,260.9 L1332.9,261.2 L1333.4,262.7 L1333.9,262.5 L1334.4,260.8 L1334.9,263.4 L1335.4,262.9 L1335.9,263.5 L1336.4,262.3 L1336.9,262.5 L1337.4,261.9 L1337.9,264.7 L1338.4,262.7 L1338.9,264.1 L1339.4,262.5 L1339.9,263.1 L1340.4,261.8 L1340.9,262.8 L1341.4,263.8 L1341.9,262.2 L1342.4,263.9 L1342.9,263.4 L1343.4,262.4 L1343.9,262.8 L1344.4,262.9 L1344.9,263.2 L1345.4,262.9 L1345.9,262.7 L1346.4,263.1 L1346.9,262.6 L1347.4,262.4 L1347.9,263.3 L1348.4,264.0 L1348.9,262.3 L1349.4,263.4 L1349.9,263.0 L1350.4,262.7 L1350.9,264.1 L1351.4,263.1 L1351.9,264.6 L1352.4,262.9 L1352.9,263.8 L1353.4,263.4 L1353.9,263.0 L1354.4,264.0 L1354.9,263.5 L1355.4,264.1 L1355.9,263.6 L1356.4,262.8 L1356.9,263.6 L1357.4,263.7 L1357.9,264.4 L1358.4,263.0 L1358.9,263.7 L1359.4,262.4 L1359.9,264.2 L1360.4,262.9 L1360.9,262.4 L1361.4,263.7 L1361.9,264.6 L1362.4,262.6 L1362.9,263.0 L1363.4,263.2 L1363.9,263.0 L1364.4,264.1 L1364.9,263.2 L1365.4,263.3 L1365.9,264.3 L1366.4,263.3 L1366.9,264.2 L1367.4,263.1 L1367.9,263.0 L1368.4,262.5 L1368.9,265.3 L1369.4,263.7 L1369.9,264.1 L1370.4,263.9 L1370.9,264.1 L1371.4,264.0 L1371.9,265.4 L1372.4,263.2 L1372.9,262.8 L1373.4,263.2 L1373.9,263.0 L1374.4,264.6 L1374.9,264.6 L1375.4,263.3 L1375.9,263.0 L1376.4,263.8 L1376.9,265.1 L1377.4,261.9 L1377.9,264.4 L1378.4,263.3 L1378.9,264.9 L1379.4,263.3 L1379.9,263.9 L1380.4,263.0 L1380.9,263.4 L1381.4,265.2 L1381.9,264.7 L1382.4,263.8 L1382.9,263.5 L1383.4,262.7 L1383.9,263.9 L1384.4,264.2 L1384.9,264.1 L1385.4,264.1 L1385.9,263.4 L1386.4,264.2 L1386.9,264.2 L1387.4,265.2 L1387.9,265.7 L1388.4,264.2 L1388.9,263.7 L1389.4,264.3 L1389.9,263.9 L1390.4,263.8 L1390.9,264.3 L1391.4,263.6 L1391.9,264.8 L1392.4,264.3 L1392.9,264.6 L1393.4,264.3 L1393.9,263.9 L1394.4,263.8 L1394.9,264.3 L1395.4,264.1 L1395.9,264.7 L1396.4,264.5 L1396.9,263.5 L1397.4,264.6 L1397.9,263.6 L1398.4,264.1 L1398.9,264.4 L1399.4,263.1 L1399.9,264.7 L1400.4,264.8 L1400.9,264.6 L1401.4,264.4 L1401.9,264.4 L1402.4,264.0 L1402.9,264.6 L1403.4,264.4 L1403.9,264.9 L1404.4,263.9 L1404.9,265.0 L1405.4,265.0 L1405.9,264.8 L1406.4,264.6 L1406.9,265.3 L1407.4,263.7 L1407.9,265.3 L1408.4,265.1 L1408.9,265.2 L1409.4,265.3 L1409.9,264.5 L1410.4,264.8 L1410.9,265.5 L1411.4,265.4 L1411.9,265.3 L1412.4,264.0 L1412.9,265.5 L1413.4,266.0 L1413.9,265.9 L1414.4,265.4 L1414.9,264.0 L1415.4,265.9 L1415.9,265.1 L1416.4,263.4 L1416.9,265.6 L1417.4,264.2 L1417.9,264.4 L1418.4,264.9 L1418.9,266.3 L1419.4,265.1 L1419.9,265.6 L1420.4,266.7 L1420.9,266.6 L1421.4,265.4 L1421.9,265.3 L1422.4,264.5 L1422.9,265.0 L1423.4,265.8 L1423.9,265.8 L1424.4,265.6 L1424.9,266.3 L1425.4,265.0 L1425.9,265.6 L1426.4,266.2 L1426.9,266.1 L1427.4,266.4 L1427.9,266.0 L1428.4,265.4 L1428.9,266.0 L1429.4,264.9 L1429.9,264.5 L1430.4,266.2 L1430.9,265.7 L1431.4,266.0 L1431.9,264.5 L1432.4,265.5 L1432.9,265.3 L1433.4,265.2 L1433.9,264.1 L1434.4,265.6 L1434.9,266.5 L1435.4,266.1 L1435.9,265.4 L1436.4,265.9 L1436.9,266.4 L1437.4,263.8 L1437.9,265.8 L1438.4,266.3 L1438.9,266.4 L1439.4,267.2 L1439.9,266.8 L1440.4,266.2 L1440.9,266.2 L1441.4,266.5 L1441.9,265.6 L1442.4,265.9 L1442.9,266.7 L1443.4,267.4 L1443.9,265.9 L1444.4,265.9 L1444.9,266.1 L1445.4,267.0 L1445.9,266.0 L1446.4,267.1 L1446.9,265.3 L1447.4,265.9 L1447.9,265.9 L1448.4,266.6 L1448.9,266.8 L1449.4,264.9 L1449.9,265.3 L1450.4,266.3 L1450.9,265.5 L1451.4,264.9 L1451.9,266.8 L1452.4,266.4 L1452.9,266.4 L1453.4,265.6 L1453.9,266.8 L1454.4,265.8 L1454.9,266.8 L1455.4,265.3 L1455.9,265.3 L1456.4,266.1 L1456.9,265.4 L1457.4,266.5 L1457.9,266.2 L1458.4,265.3 L1458.9,266.0 L1459.4,265.7 L1459.9,266.6 L1460.4,265.5 L1460.9,265.6 L1461.4,266.8 L1461.9,267.6 L1462.4,267.4 L1462.9,266.0 L1463.4,266.1 L1463.9,267.0 L1464.4,265.8 L1464.9,265.1 L1465.4,266.0 L1465.9,266.2 L1466.4,265.2 L1466.9,264.6 L1467.4,264.8 L1467.9,266.3 L1468.4,265.3 L1468.9,265.7 L1469.4,266.0 L1469.9,266.3 L1470.4,265.5 L1470.9,266.2 L1471.4,265.1 L1471.9,265.5 L1472.4,265.0 L1472.9,266.6 L1473.4,265.7 L1473.9,265.2 L1474.4,265.5 L1474.9,265.5 L1475.4,266.2 L1475.9,264.5 L1476.4,264.9 L1476.9,265.4 L1477.4,267.6 L1477.9,266.4 L1478.4,265.6 L1478.9,266.2 L1479.4,267.2 L1479.9,265.4 L1480.4,265.3 L1480.9,266.5 L1481.4,265.9 L1481.9,266.1 L1482.4,265.2 L1482.9,267.0 L1483.4,266.8 L1483.9,265.9 L1484.4,266.0 L1484.9,264.0 L1485.4,265.9 L1485.9,265.3 L1486.4,265.8 L1486.9,265.9 L1487.4,265.2 L1487.9,264.1 L1488.4,265.7 L1488.9,264.8 L1489.4,265.1 L1489.9,264.9 L1490.4,265.1 L1490.9,263.6 L1491.4,266.2 L1491.9,265.5 L1492.4,266.1 L1492.9,266.7 L1493.4,265.3 L1493.9,263.9 L1494.4,264.5 L1494.9,264.3 L1495.4,264.8 L1495.9,265.2 L1496.4,263.7 L1496.9,265.4 L1497.4,264.0 L1497.9,265.3 L1498.4,265.0 L1498.9,264.8 L1499.4,265.0 L1499.9,264.6 L1500.4,264.6 L1500.9,263.8 L1501.4,265.0 L1501.9,266.4 L1502.4,266.5 L1502.9,266.0 L1503.4,265.5 L1503.9,264.4 L1504.4,266.0 L1504.9,264.9 L1505.4,264.8 L1505.9,264.6 L1506.4,264.9 L1506.9,264.5 L1507.4,264.8 L1507.9,264.0 L1508.4,264.5 L1508.9,266.5 L1509.4,264.7 L1509.9,264.6 L1510.4,265.1 L1510.9,265.2 L1511.4,263.8 L1511.9,264.5 L1512.4,265.3 L1512.9,264.8 L1513.4,264.7 L1513.9,265.7 L1514.4,264.0 L1514.9,264.6 L1515.4,264.1 L1515.9,265.6 L1516.4,263.0 L1516.9,263.9 L1517.4,264.0 L1517.9,264.9 L1518.4,264.8 L1518.9,265.4 L1519.4,263.1 L1519.9,264.8 L1520.4,264.0 L1520.9,263.7 L1521.4,264.6 L1521.9,263.5 L1522.4,262.6 L1522.9,263.8 L1523.4,263.0 L1523.9,263.6 L1524.4,264.3 L1524.9,264.2 L1525.4,265.1 L1525.9,263.8 L1526.4,262.7 L1526.9,263.3 L1527.4,263.1 L1527.9,262.9 L1528.4,264.1 L1528.9,263.2 L1529.4,262.2 L1529.9,264.2 L1530.4,263.5 L1530.9,263.8 L1531.4,263.6 L1531.9,264.0 L1532.4,263.5 L1532.9,264.4 L1533.4,263.7 L1533.9,263.7 L1534.4,263.6 L1534.9,262.2 L1535.4,263.1 L1535.9,263.0 L1536.4,263.3 L1536.9,262.1 L1537.4,264.3 L1537.9,263.1 L1538.4,262.1 L1538.9,261.7 L1539.4,262.7 L1539.9,262.8 L1540.4,262.3 L1540.9,262.9 L1541.4,262.3 L1541.9,263.1 L1542.4,262.1 L1542.9,262.6 L1543.4,263.3 L1543.9,264.5 L1544.4,261.8 L1544.9,262.1 L1545.4,261.8 L1545.9,263.0 L1546.4,261.5 L1546.9,261.9 L1547.4,262.2 L1547.9,261.5 L1548.4,261.4 L1548.9,261.8 L1549.4,260.5 L1549.9,260.9 L1550.4,261.7 L1550.9,262.1 L1551.4,261.8 L1551.9,260.5 L1552.4,261.5 L1552.9,262.4 L1553.4,262.1 L1553.9,261.6 L1554.4,261.0 L1554.9,262.1 L1555.4,261.1 L1555.9,260.6 L1556.4,260.8 L1556.9,262.5 L1557.4,261.5 L1557.9,262.2 L1558.4,260.9 L1558.9,261.9 L1559.4,260.7 L1559.9,261.0 L1560.4,262.9 L1560.9,261.6 L1561.4,260.6 L1561.9,260.8 L1562.4,261.1 L1562.9,261.7 L1563.4,260.3 L1563.9,259.4 L1564.4,260.4 L1564.9,260.6 L1565.4,260.6 L1565.9,261.4 L1566.4,260.6 L1566.9,260.9 L1567.4,259.4 L1567.9,260.8 L1568.4,261.7 L1568.9,260.6 L1569.4,260.2 L1569.9,260.0 L1570.4,261.2 L1570.9,259.1 L1571.4,259.6 L1571.9,260.0 L1572.4,260.1 L1572.9,259.2 L1573.4,259.7 L1573.9,259.2 L1574.4,259.4 L1574.9,259.1 L1575.4,258.3 L1575.9,259.0 L1576.4,259.6 L1576.9,258.2 L1577.4,258.6 L1577.9,259.2 L1578.4,257.8 L1578.9,258.7 L1579.4,257.7 L1579.9,259.2 L1580.4,260.0 L1580.9,259.7 L1581.4,257.9 L1581.9,258.6 L1582.4,258.0 L1582.9,257.9 L1583.4,258.9 L1583.9,256.6 L1584.4,258.3 L1584.9,257.3 L1585.4,258.3 L1585.9,257.2 L1586.4,256.4 L1586.9,257.0 L1587.4,257.2 L1587.9,256.5 L1588.4,256.7 L1588.9,255.8 L1589.4,254.4 L1589.9,256.5 L1590.4,256.2 L1590.9,255.6 L1591.4,255.4 L1591.9,256.0 L1592.4,254.7 L1592.9,254.3 L1593.4,254.5 L1593.9,255.4 L1594.4,253.3 L1594.9,255.1 L1595.4,253.5 L1595.9,253.0 L1596.4,254.6 L1596.9,253.5 L1597.4,252.4 L1597.9,252.9 L1598.4,253.7 L1598.9,253.7 L1599.4,252.3 L1599.9,252.7 L1600.4,252.8 L1600.9,251.5 L1601.4,252.1 L1601.9,251.6 L1602.4,251.0 L1602.9,250.8 L1603.4,251.0 L1603.9,250.7 L1604.4,250.0 L1604.9,249.9 L1605.4,250.9 L1605.9,250.0 L1606.4,250.3 L1606.9,250.3 L1607.4,249.6 L1607.9,250.7 L1608.4,248.2 L1608.9,249.3 L1609.4,248.2 L1609.9,249.7 L1610.4,249.5 L1610.9,246.6 L1611.4,247.2 L1611.9,248.3 L1612.4,248.3 L1612.9,248.2 L1613.4,247.5 L1613.9,247.9 L1614.4,248.0 L1614.9,247.4 L1615.4,248.3 L1615.9,245.8 L1616.4,248.0 L1616.9,246.8 L1617.4,248.4 L1617.9,247.5 L1618.4,247.1 L1618.9,248.1 L1619.4,247.2 L1619.9,247.3 L1620.4,246.9 L1620.9,248.2 L1621.4,248.7 L1621.9,249.2 L1622.4,248.4 L1622.9,249.4 L1623.4,248.8 L1623.9,248.8 L1624.4,249.5 L1624.9,250.0 L1625.4,249.0 L1625.9,249.3 L1626.4,249.4 L1626.9,249.8 L1627.4,249.2 L1627.9,250.7 L1628.4,249.8 L1628.9,250.6 L1629.4,249.7 L1629.9,250.7 L1630.4,250.8 L1630.9,250.3 L1631.4,252.3 L1631.9,251.1 L1632.4,252.3 L1632.9,251.8 L1633.4,250.6 L1633.9,250.9 L1634.4,251.6 L1634.9,251.4 L1635.4,251.5 L1635.9,251.3 L1636.4,250.3 L1636.9,251.6 L1637.4,250.2 L1637.9,252.2 L1638.4,251.5 L1638.9,251.6 L1639.4,252.1 L1639.9,252.5 L1640.4,251.3 L1640.9,251.2 L1641.4,251.8 L1641.9,251.1 L1642.4,252.0 L1642.9,254.0 L1643.4,252.1 L1643.9,253.5 L1644.4,252.0 L1644.9,253.3 L1645.4,252.9 L1645.9,253.2 L1646.4,253.7 L1646.9,254.6 L1647.4,253.5 L1647.9,253.5 L1648.4,252.7 L1648.9,253.9 L1649.4,253.3 L1649.9,254.1 L1650.4,253.5 L1650.9,254.8 L1651.4,252.0 L1651.9,253.3 L1652.4,254.1 L1652.9,253.2 L1653.4,252.8 L1653.9,253.2 L1654.4,252.3 L1654.9,253.4 L1655.4,255.1 L1655.9,254.1 L1656.4,252.3 L1656.9,252.4 L1657.4,252.7 L1657.9,253.7 L1658.4,252.3 L1658.9,252.3 L1659.4,253.4 L1659.9,253.3 L1660.4,252.3 L1660.9,251.7 L1661.4,251.2 L1661.9,251.8 L1662.4,250.6 L1662.9,252.7 L1663.4,251.6 L1663.9,252.3 L1664.4,253.3 L1664.9,252.6 L1665.4,250.8 L1665.9,252.2 L1666.4,252.3 L1666.9,250.8 L1667.4,250.6 L1667.9,251.1 L1668.4,249.9 L1668.9,252.1 L1669.4,249.1 L1669.9,250.0 L1670.4,250.5 L1670.9,250.4 L1671.4,250.6 L1671.9,250.6 L1672.4,250.1 L1672.9,251.0 L1673.4,248.4 L1673.9,249.9 L1674.4,249.2 L1674.9,249.7 L1675.4,249.6 L1675.9,248.6 L1676.4,248.7 L1676.9,249.6 L1677.4,249.1 L1677.9,248.1 L1678.4,250.0 L1678.9,250.0 L1679.4,247.0 L1679.9,248.2 L1680.4,249.7 L1680.9,248.2 L1681.4,247.6 L1681.9,247.2 L1682.4,246.8 L1682.9,246.9 L1683.4,246.5 L1683.9,247.3 L1684.4,246.3 L1684.9,246.2 L1685.4,245.5 L1685.9,246.3 L1686.4,245.6 L1686.9,246.0 L1687.4,246.9 L1687.9,246.3 L1688.4,246.4 L1688.9,246.3 L1689.4,246.0 L1689.9,245.9 L1690.4,245.8 L1690.9,246.7 L1691.4,245.4 L1691.9,247.4 L1692.4,246.5 L1692.9,246.1 L1693.4,246.5 L1693.9,246.5 L1694.4,247.4 L1694.9,246.9 L1695.4,248.6 L1695.9,247.4 L1696.4,246.5 L1696.9,247.9 L1697.4,247.2 L1697.9,249.0 L1698.4,250.1 L1698.9,250.0 L1699.4,248.8 L1699.9,249.5 L1700.4,251.7 L1700.9,250.8 L1701.4,250.9 L1701.9,251.9 L1702.4,253.2 L1702.9,252.5 L1703.4,251.9 L1703.9,252.2 L1704.4,252.6 L1704.9,251.9 L1705.4,251.7 L1705.9,252.8 L1706.4,252.2 L1706.9,253.1 L1707.4,253.4 L1707.9,255.3 L1708.4,253.1 L1708.9,253.8 L1709.4,254.0 L1709.9,254.6 L1710.4,255.3 L1710.9,254.4 L1711.4,254.3 L1711.9,253.9 L1712.4,254.6 L1712.9,255.9 L1713.4,255.7 L1713.9,255.1 L1714.4,255.8 L1714.9,256.2 L1715.4,256.8 L1715.9,256.1 L1716.4,256.5 L1716.9,255.5 L1717.4,256.2 L1717.9,258.4 L1718.4,255.6 L1718.9,257.2 L1719.4,257.7 L1719.9,257.4 L1720.4,257.1 L1720.9,257.8 L1721.4,257.9 L1721.9,257.9 L1722.4,256.7 L1722.9,258.0 L1723.4,257.6 L1723.9,257.8 L1724.4,258.5 L1724.9,258.9 L1725.4,259.1 L1725.9,258.1 L1726.4,259.2 L1726.9,259.5 L1727.4,259.5 L1727.9,259.7 L1728.4,258.6 L1728.9,258.6 L1729.4,259.4 L1729.9,257.8 L1730.4,259.1 L1730.9,258.5 L1731.4,258.7 L1731.9,257.7 L1732.4,258.4 L1732.9,259.1 L1733.4,259.8 L1733.9,259.9 L1734.4,259.1 L1734.9,259.1 L1735.4,258.6 L1735.9,259.6 L1736.4,259.2 L1736.9,259.8 L1737.4,260.7 L1737.9,259.4 L1738.4,258.3 L1738.9,258.9 L1739.4,258.4 L1739.9,258.7 L1740.4,260.6 L1740.9,259.8 L1741.4,258.5 L1741.9,260.2 L1742.4,260.7 L1742.9,259.5 L1743.4,259.3 L1743.9,259.6 L1744.4,260.1 L1744.9,260.4 L1745.4,260.9 L1745.9,260.9 L1746.4,261.0 L1746.9,261.1 L1747.4,260.6 L1747.9,259.0 L1748.4,260.1 L1748.9,260.5 L1749.4,260.0 L1749.9,261.0 L1750.4,260.1 L1750.9,259.7 L1751.4,261.5 L1751.9,261.0 L1752.4,260.7 L1752.9,261.3 L1753.4,261.4 L1753.9,260.9 L1754.4,258.8 L1754.9,260.2 L1755.4,260.4 L1755.9,260.1 L1756.4,261.0 L1756.9,261.8 L1757.4,260.5 L1757.9,260.1 L1758.4,262.5 L1758.9,260.7 L1759.4,260.2 L1759.9,261.3 L1760.4,261.5 L1760.9,260.7 L1761.4,261.9 L1761.9,260.9 L1762.4,260.7 L1762.9,261.5 L1763.4,262.0 L1763.9,261.0 L1764.4,261.8 L1764.9,261.6 L1765.4,263.8 L1765.9,261.2 L1766.4,262.8 L1766.9,261.8 L1767.4,261.8 L1767.9,262.6 L1768.4,262.8 L1768.9,263.1 L1769.4,262.5 L1769.9,261.9 L1770.4,262.1 L1770.9,263.0 L1771.4,263.2 L1771.9,263.9 L1772.4,263.3 L1772.9,263.9 L1773.4,264.3 L1773.9,263.4 L1774.4,262.3 L1774.9,262.7 L1775.4,262.6 L1775.9,265.0 L1776.4,263.3 L1776.9,264.9 L1777.4,264.6 L1777.9,265.5 L1778.4,265.1 L1778.9,264.3 L1779.4,264.4 L1779.9,264.7 L1780.4,264.8 L1780.9,264.4 L1781.4,264.8 L1781.9,266.1 L1782.4,263.7 L1782.9,265.2 L1783.4,264.4 L1783.9,265.3 L1784.4,265.8 L1784.9,265.2 L1785.4,265.9 L1785.9,264.1 L1786.4,266.2 L1786.9,265.0 L1787.4,266.0 L1787.9,265.7 L1788.4,263.7 L1788.9,265.1 L1789.4,265.9 L1789.9,266.9 L1790.4,266.0 L1790.9,266.1 L1791.4,264.8 L1791.9,267.0 L1792.4,267.4 L1792.9,266.1 L1793.4,265.9 L1793.9,264.9 L1794.4,266.8 L1794.9,268.2 L1795.4,266.8 L1795.9,267.2 L1796.4,266.7 L1796.9,265.6 L1797.4,267.4 L1797.9,265.5 L1798.4,266.3 L1798.9,266.7 L1799.4,267.2 L1799.9,266.9 L1800.4,266.9 L1800.9,266.0 L1801.4,265.7 L1801.9,266.7 L1802.4,266.2 L1802.9,265.7 L1803.4,265.8 L1803.9,266.4 L1804.4,265.4 L1804.9,265.8 L1805.4,265.6 L1805.9,267.0 L1806.4,267.2 L1806.9,268.4 L1807.4,265.8 L1807.9,266.4 L1808.4,267.6 L1808.9,266.8 L1809.4,266.7 L1809.9,268.2 L1810.4,266.7 L1810.9,266.1 L1811.4,266.0 L1811.9,267.3 L1812.4,267.3 L1812.9,266.0 L1813.4,266.3 L1813.9,267.5 L1814.4,267.5 L1814.9,266.6 L1815.4,267.6 L1815.9,267.6 L1816.4,265.8 L1816.9,266.9 L1817.4,267.5 L1817.9,266.8 L1818.4,265.6 L1818.9,267.0 L1819.4,267.8 L1819.9,268.4 L1820.4,265.6 L1820.9,269.2 L1821.4,266.4 L1821.9,268.0 L1822.4,268.2 L1822.9,268.1 L1823.4,267.4 L1823.9,266.5 L1824.4,267.8 L1824.9,266.8 L1825.4,265.5 L1825.9,269.5 L1826.4,267.9 L1826.9,268.8 L1827.4,266.7 L1827.9,268.5 L1828.4,268.6 L1828.9,268.6 L1829.4,267.4 L1829.9,266.6 L1830.4,267.3 L1830.9,265.8 L1831.4,266.2 L1831.9,267.6 L1832.4,266.8 L1832.9,267.4 L1833.4,267.5 L1833.9,269.0 L1834.4,268.5 L1834.9,267.5 L1835.4,268.5 L1835.9,267.0 L1836.4,267.3 L1836.9,268.3 L1837.4,266.7 L1837.9,267.4 L1838.4,266.6 L1838.9,267.7 L1839.4,268.8 L1839.9,267.1 L1840.4,267.8 L1840.9,267.0 L1841.4,266.8 L1841.9,266.7 L1842.4,268.7 L1842.9,269.4 L1843.4,268.0 L1843.9,267.1 L1844.4,268.2 L1844.9,267.4 L1845.4,268.3 L1845.9,267.9 L1846.4,267.9 L1846.9,268.1 L1847.4,267.3 L1847.9,267.4 L1848.4,266.4 L1848.9,267.4 L1849.4,266.6 L1849.9,267.6 L1850.4,267.0 L1850.9,267.8 L1851.4,268.0 L1851.9,266.6 L1852.4,267.1" fill="none" stroke="#FF0000" stroke-width="2.8" stroke-linejoin="round"/>
<path d="M1129.9,378.7 L1130.4,380.4 L1130.9,381.3 L1131.4,380.2 L1131.9,378.8 L1132.4,380.6 L1132.9,377.2 L1133.4,380.4 L1133.9,377.8 L1134.4,375.4 L1134.9,381.2 L1135.4,379.9 L1135.9,376.8 L1136.4,378.0 L1136.9,377.5 L1137.4,377.7 L1137.9,375.8 L1138.4,376.5 L1138.9,377.7 L1139.4,377.2 L1139.9,378.2 L1140.4,376.8 L1140.9,379.2 L1141.4,375.7 L1141.9,376.6 L1142.4,374.1 L1142.9,374.7 L1143.4,377.4 L1143.9,374.8 L1144.4,376.3 L1144.9,375.5 L1145.4,374.3 L1145.9,374.9 L1146.4,374.6 L1146.9,374.5 L1147.4,375.8 L1147.9,375.5 L1148.4,374.1 L1148.9,373.6 L1149.4,374.8 L1149.9,374.2 L1150.4,375.4 L1150.9,377.0 L1151.4,374.9 L1151.9,373.8 L1152.4,373.6 L1152.9,372.7 L1153.4,372.5 L1153.9,372.3 L1154.4,372.9 L1154.9,372.7 L1155.4,373.9 L1155.9,372.5 L1156.4,372.6 L1156.9,371.3 L1157.4,374.4 L1157.9,373.0 L1158.4,374.3 L1158.9,373.0 L1159.4,373.7 L1159.9,371.6 L1160.4,372.6 L1160.9,374.6 L1161.4,370.2 L1161.9,372.7 L1162.4,373.1 L1162.9,371.6 L1163.4,371.9 L1163.9,372.3 L1164.4,370.0 L1164.9,371.1 L1165.4,369.5 L1165.9,369.6 L1166.4,369.6 L1166.9,370.0 L1167.4,370.2 L1167.9,370.4 L1168.4,368.1 L1168.9,371.8 L1169.4,370.8 L1169.9,370.2 L1170.4,368.8 L1170.9,369.0 L1171.4,369.6 L1171.9,369.3 L1172.4,366.8 L1172.9,369.4 L1173.4,371.7 L1173.9,366.2 L1174.4,369.3 L1174.9,368.5 L1175.4,367.8 L1175.9,369.4 L1176.4,366.4 L1176.9,367.8 L1177.4,369.1 L1177.9,367.1 L1178.4,366.8 L1178.9,367.2 L1179.4,366.5 L1179.9,368.6 L1180.4,365.7 L1180.9,367.6 L1181.4,365.0 L1181.9,367.1 L1182.4,366.1 L1182.9,363.1 L1183.4,365.9 L1183.9,364.5 L1184.4,365.1 L1184.9,367.2 L1185.4,364.0 L1185.9,363.9 L1186.4,366.6 L1186.9,364.9 L1187.4,366.3 L1187.9,364.8 L1188.4,363.3 L1188.9,364.0 L1189.4,365.3 L1189.9,364.8 L1190.4,363.5 L1190.9,363.4 L1191.4,363.0 L1191.9,362.3 L1192.4,364.9 L1192.9,362.5 L1193.4,361.0 L1193.9,361.5 L1194.4,362.6 L1194.9,362.3 L1195.4,361.1 L1195.9,360.2 L1196.4,360.7 L1196.9,358.5 L1197.4,358.6 L1197.9,360.7 L1198.4,358.9 L1198.9,359.5 L1199.4,360.0 L1199.9,358.9 L1200.4,357.8 L1200.9,359.7 L1201.4,357.5 L1201.9,355.8 L1202.4,356.4 L1202.9,355.5 L1203.4,353.4 L1203.9,353.8 L1204.4,352.8 L1204.9,349.9 L1205.4,351.0 L1205.9,349.9 L1206.4,348.6 L1206.9,346.0 L1207.4,346.2 L1207.9,345.2 L1208.4,343.9 L1208.9,341.0 L1209.4,341.4 L1209.9,337.7 L1210.4,337.0 L1210.9,336.8 L1211.4,332.5 L1211.9,330.4 L1212.4,329.8 L1212.9,325.6 L1213.4,323.1 L1213.9,321.0 L1214.4,319.2 L1214.9,312.7 L1215.4,311.1 L1215.9,307.7 L1216.4,304.3 L1216.9,301.1 L1217.4,297.5 L1217.9,295.2 L1218.4,290.1 L1218.9,287.3 L1219.4,283.5 L1219.9,278.1 L1220.4,275.1 L1220.9,272.9 L1221.4,267.6 L1221.9,262.7 L1222.4,259.5 L1222.9,254.9 L1223.4,252.6 L1223.9,249.8 L1224.4,244.2 L1224.9,241.1 L1225.4,239.0 L1225.9,234.0 L1226.4,232.2 L1226.9,229.0 L1227.4,227.7 L1227.9,226.7 L1228.4,229.0 L1228.9,226.2 L1229.4,226.7 L1229.9,227.7 L1230.4,229.6 L1230.9,233.1 L1231.4,235.6 L1231.9,240.7 L1232.4,242.0 L1232.9,247.1 L1233.4,249.6 L1233.9,254.0 L1234.4,255.8 L1234.9,261.5 L1235.4,266.1 L1235.9,270.7 L1236.4,273.3 L1236.9,281.1 L1237.4,283.7 L1237.9,287.2 L1238.4,290.9 L1238.9,294.2 L1239.4,298.1 L1239.9,299.2 L1240.4,302.4 L1240.9,306.4 L1241.4,308.7 L1241.9,310.5 L1242.4,312.5 L1242.9,314.4 L1243.4,317.2 L1243.9,320.5 L1244.4,320.0 L1244.9,324.6 L1245.4,325.6 L1245.9,325.9 L1246.4,328.8 L1246.9,327.9 L1247.4,329.2 L1247.9,331.3 L1248.4,333.9 L1248.9,335.8 L1249.4,337.5 L1249.9,340.0 L1250.4,339.3 L1250.9,343.6 L1251.4,342.5 L1251.9,343.8 L1252.4,344.4 L1252.9,343.9 L1253.4,344.0 L1253.9,344.7 L1254.4,346.0 L1254.9,346.9 L1255.4,347.1 L1255.9,345.6 L1256.4,345.9 L1256.9,346.0 L1257.4,347.6 L1257.9,345.0 L1258.4,348.6 L1258.9,346.8 L1259.4,346.5 L1259.9,347.8 L1260.4,348.5 L1260.9,347.7 L1261.4,348.4 L1261.9,347.3 L1262.4,348.4 L1262.9,348.3 L1263.4,346.6 L1263.9,348.1 L1264.4,346.4 L1264.9,346.1 L1265.4,344.8 L1265.9,345.2 L1266.4,346.1 L1266.9,343.5 L1267.4,345.4 L1267.9,344.8 L1268.4,344.4 L1268.9,341.4 L1269.4,343.4 L1269.9,343.8 L1270.4,341.9 L1270.9,342.4 L1271.4,339.2 L1271.9,342.1 L1272.4,340.1 L1272.9,341.3 L1273.4,337.8 L1273.9,340.0 L1274.4,338.4 L1274.9,339.0 L1275.4,336.5 L1275.9,336.2 L1276.4,338.7 L1276.9,334.7 L1277.4,334.1 L1277.9,333.8 L1278.4,332.2 L1278.9,333.9 L1279.4,333.6 L1279.9,330.1 L1280.4,328.1 L1280.9,330.4 L1281.4,329.4 L1281.9,328.1 L1282.4,327.5 L1282.9,324.2 L1283.4,324.0 L1283.9,321.6 L1284.4,320.4 L1284.9,321.9 L1285.4,318.8 L1285.9,320.7 L1286.4,316.9 L1286.9,314.6 L1287.4,314.6 L1287.9,313.9 L1288.4,310.3 L1288.9,306.2 L1289.4,305.4 L1289.9,303.9 L1290.4,299.2 L1290.9,296.2 L1291.4,295.4 L1291.9,291.5 L1292.4,287.0 L1292.9,284.6 L1293.4,281.0 L1293.9,279.1 L1294.4,275.7 L1294.9,273.1 L1295.4,268.9 L1295.9,263.1 L1296.4,262.9 L1296.9,262.6 L1297.4,262.4 L1297.9,263.7 L1298.4,262.9 L1298.9,263.7 L1299.4,267.1 L1299.9,266.3 L1300.4,266.3 L1300.9,271.0 L1301.4,270.3 L1301.9,272.0 L1302.4,272.1 L1302.9,273.6 L1303.4,275.2 L1303.9,277.5 L1304.4,279.8 L1304.9,278.2 L1305.4,283.1 L1305.9,282.6 L1306.4,284.7 L1306.9,289.0 L1307.4,291.5 L1307.9,294.3 L1308.4,303.0 L1308.9,305.6 L1309.4,313.7 L1309.9,321.2 L1310.4,329.5 L1310.9,333.8 L1311.4,341.7 L1311.9,345.2 L1312.4,351.2 L1312.9,352.2 L1313.4,355.5 L1313.9,360.4 L1314.4,360.9 L1314.9,362.5 L1315.4,366.3 L1315.9,365.3 L1316.4,364.9 L1316.9,367.5 L1317.4,366.2 L1317.9,369.5 L1318.4,370.2 L1318.9,368.9 L1319.4,369.3 L1319.9,370.7 L1320.4,370.9 L1320.9,370.2 L1321.4,372.2 L1321.9,369.6 L1322.4,371.6 L1322.9,371.8 L1323.4,372.2 L1323.9,373.0 L1324.4,371.5 L1324.9,373.6 L1325.4,372.9 L1325.9,372.5 L1326.4,371.9 L1326.9,372.2 L1327.4,374.0 L1327.9,372.7 L1328.4,373.9 L1328.9,375.1 L1329.4,375.1 L1329.9,375.8 L1330.4,373.8 L1330.9,373.1 L1331.4,375.4 L1331.9,374.7 L1332.4,375.7 L1332.9,374.5 L1333.4,375.9 L1333.9,375.6 L1334.4,375.5 L1334.9,375.3 L1335.4,375.3 L1335.9,375.1 L1336.4,375.2 L1336.9,376.1 L1337.4,374.5 L1337.9,377.0 L1338.4,375.0 L1338.9,376.3 L1339.4,375.1 L1339.9,375.0 L1340.4,377.6 L1340.9,375.1 L1341.4,374.1 L1341.9,374.7 L1342.4,375.2 L1342.9,378.0 L1343.4,375.9 L1343.9,376.8 L1344.4,374.7 L1344.9,376.2 L1345.4,376.7 L1345.9,378.0 L1346.4,375.3 L1346.9,376.8 L1347.4,376.5 L1347.9,375.1 L1348.4,376.2 L1348.9,376.0 L1349.4,373.8 L1349.9,377.1 L1350.4,377.1 L1350.9,376.1 L1351.4,375.1 L1351.9,378.3 L1352.4,377.0 L1352.9,377.9 L1353.4,378.3 L1353.9,376.3 L1354.4,377.8 L1354.9,376.6 L1355.4,376.9 L1355.9,376.9 L1356.4,377.0 L1356.9,378.3 L1357.4,377.2 L1357.9,377.0 L1358.4,376.8 L1358.9,377.6 L1359.4,376.2 L1359.9,376.7 L1360.4,377.2 L1360.9,376.6 L1361.4,377.2 L1361.9,376.6 L1362.4,379.5 L1362.9,378.8 L1363.4,377.9 L1363.9,377.3 L1364.4,379.8 L1364.9,377.8 L1365.4,377.4 L1365.9,377.8 L1366.4,377.8 L1366.9,379.1 L1367.4,377.5 L1367.9,379.9 L1368.4,376.6 L1368.9,378.4 L1369.4,376.5 L1369.9,379.6 L1370.4,377.3 L1370.9,377.6 L1371.4,378.7 L1371.9,379.1 L1372.4,376.5 L1372.9,377.4 L1373.4,376.2 L1373.9,377.9 L1374.4,377.7 L1374.9,377.4 L1375.4,377.1 L1375.9,377.4 L1376.4,377.1 L1376.9,378.5 L1377.4,379.6 L1377.9,375.8 L1378.4,377.8 L1378.9,377.5 L1379.4,378.5 L1379.9,377.0 L1380.4,377.9 L1380.9,376.9 L1381.4,378.8 L1381.9,378.2 L1382.4,377.9 L1382.9,378.5 L1383.4,377.8 L1383.9,376.4 L1384.4,378.8 L1384.9,378.5 L1385.4,378.0 L1385.9,379.3 L1386.4,379.5 L1386.9,377.0 L1387.4,377.4 L1387.9,380.0 L1388.4,379.8 L1388.9,377.5 L1389.4,377.0 L1389.9,377.6 L1390.4,377.8 L1390.9,376.6 L1391.4,378.4 L1391.9,376.9 L1392.4,377.0 L1392.9,379.4 L1393.4,377.6 L1393.9,378.3 L1394.4,379.1 L1394.9,379.3 L1395.4,378.1 L1395.9,378.5 L1396.4,377.5 L1396.9,380.4 L1397.4,379.2 L1397.9,377.3 L1398.4,378.5 L1398.9,379.3 L1399.4,379.0 L1399.9,380.5 L1400.4,380.0 L1400.9,377.9 L1401.4,378.5 L1401.9,377.1 L1402.4,378.8 L1402.9,378.7 L1403.4,381.6 L1403.9,378.7 L1404.4,376.3 L1404.9,377.9 L1405.4,378.7 L1405.9,377.2 L1406.4,377.7 L1406.9,378.2 L1407.4,379.0 L1407.9,378.5 L1408.4,377.7 L1408.9,379.5 L1409.4,378.1 L1409.9,378.1 L1410.4,377.1 L1410.9,377.8 L1411.4,379.4 L1411.9,376.9 L1412.4,378.6 L1412.9,379.5 L1413.4,378.3 L1413.9,379.0 L1414.4,377.5 L1414.9,380.1 L1415.4,379.9 L1415.9,379.0 L1416.4,376.8 L1416.9,377.5 L1417.4,379.8 L1417.9,380.6 L1418.4,379.0 L1418.9,380.1 L1419.4,378.0 L1419.9,378.5 L1420.4,378.7 L1420.9,379.2 L1421.4,377.0 L1421.9,379.7 L1422.4,380.2 L1422.9,377.4 L1423.4,377.2 L1423.9,379.1 L1424.4,378.0 L1424.9,376.1 L1425.4,379.6 L1425.9,378.9 L1426.4,378.2 L1426.9,381.0 L1427.4,378.8 L1427.9,377.8 L1428.4,378.8 L1428.9,377.5 L1429.4,377.8 L1429.9,379.1 L1430.4,378.0 L1430.9,378.2 L1431.4,380.5 L1431.9,379.6 L1432.4,379.5 L1432.9,379.2 L1433.4,379.2 L1433.9,380.2 L1434.4,378.6 L1434.9,380.7 L1435.4,377.6 L1435.9,378.3 L1436.4,377.1 L1436.9,378.2 L1437.4,379.2 L1437.9,380.2 L1438.4,377.8 L1438.9,378.6 L1439.4,378.2 L1439.9,377.7 L1440.4,377.2 L1440.9,378.6 L1441.4,376.6 L1441.9,378.7 L1442.4,378.5 L1442.9,377.8 L1443.4,377.4 L1443.9,377.0 L1444.4,380.6 L1444.9,377.0 L1445.4,380.2 L1445.9,379.1 L1446.4,378.1 L1446.9,377.2 L1447.4,379.6 L1447.9,380.3 L1448.4,377.4 L1448.9,378.1 L1449.4,379.6 L1449.9,378.8 L1450.4,380.6 L1450.9,377.8 L1451.4,379.0 L1451.9,377.0 L1452.4,380.7 L1452.9,377.5 L1453.4,375.9 L1453.9,378.2 L1454.4,378.2 L1454.9,380.4 L1455.4,377.9 L1455.9,378.3 L1456.4,378.9 L1456.9,380.0 L1457.4,378.2 L1457.9,379.4 L1458.4,378.8 L1458.9,377.9 L1459.4,378.3 L1459.9,378.2 L1460.4,377.2 L1460.9,379.5 L1461.4,376.7 L1461.9,379.5 L1462.4,379.2 L1462.9,378.1 L1463.4,377.3 L1463.9,377.9 L1464.4,378.6 L1464.9,378.9 L1465.4,378.4 L1465.9,379.2 L1466.4,377.5 L1466.9,378.3 L1467.4,376.3 L1467.9,378.9 L1468.4,378.2 L1468.9,377.6 L1469.4,379.3 L1469.9,378.8 L1470.4,374.9 L1470.9,378.0 L1471.4,376.4 L1471.9,379.1 L1472.4,380.7 L1472.9,377.4 L1473.4,378.0 L1473.9,377.6 L1474.4,378.3 L1474.9,378.6 L1475.4,379.3 L1475.9,376.8 L1476.4,379.6 L1476.9,376.8 L1477.4,378.1 L1477.9,379.1 L1478.4,378.6 L1478.9,376.8 L1479.4,377.0 L1479.9,377.3 L1480.4,377.7 L1480.9,379.0 L1481.4,376.3 L1481.9,378.2 L1482.4,378.4 L1482.9,378.3 L1483.4,378.2 L1483.9,379.3 L1484.4,378.2 L1484.9,378.6 L1485.4,378.2 L1485.9,379.6 L1486.4,375.5 L1486.9,379.0 L1487.4,377.2 L1487.9,377.2 L1488.4,376.4 L1488.9,375.4 L1489.4,377.0 L1489.9,376.7 L1490.4,378.0 L1490.9,375.8 L1491.4,379.0 L1491.9,377.7 L1492.4,377.1 L1492.9,376.6 L1493.4,376.4 L1493.9,376.0 L1494.4,376.7 L1494.9,377.3 L1495.4,377.0 L1495.9,375.7 L1496.4,376.9 L1496.9,376.2 L1497.4,377.3 L1497.9,379.2 L1498.4,377.8 L1498.9,376.7 L1499.4,375.3 L1499.9,375.5 L1500.4,375.1 L1500.9,377.8 L1501.4,376.1 L1501.9,377.0 L1502.4,376.2 L1502.9,377.0 L1503.4,378.4 L1503.9,376.1 L1504.4,376.4 L1504.9,375.9 L1505.4,377.7 L1505.9,375.6 L1506.4,375.4 L1506.9,375.1 L1507.4,375.1 L1507.9,377.1 L1508.4,379.4 L1508.9,375.4 L1509.4,377.6 L1509.9,376.8 L1510.4,375.2 L1510.9,376.1 L1511.4,376.1 L1511.9,375.6 L1512.4,378.4 L1512.9,374.2 L1513.4,376.7 L1513.9,376.6 L1514.4,375.6 L1514.9,376.3 L1515.4,377.1 L1515.9,376.3 L1516.4,376.5 L1516.9,376.8 L1517.4,373.8 L1517.9,377.6 L1518.4,378.4 L1518.9,377.0 L1519.4,377.0 L1519.9,374.3 L1520.4,375.6 L1520.9,374.8 L1521.4,375.1 L1521.9,376.7 L1522.4,374.7 L1522.9,375.4 L1523.4,373.4 L1523.9,375.3 L1524.4,375.6 L1524.9,374.7 L1525.4,374.6 L1525.9,377.4 L1526.4,374.0 L1526.9,374.1 L1527.4,374.3 L1527.9,376.5 L1528.4,377.5 L1528.9,375.5 L1529.4,374.3 L1529.9,374.5 L1530.4,376.1 L1530.9,373.9 L1531.4,376.5 L1531.9,376.4 L1532.4,374.9 L1532.9,375.5 L1533.4,375.5 L1533.9,376.4 L1534.4,373.5 L1534.9,375.9 L1535.4,374.1 L1535.9,373.6 L1536.4,374.5 L1536.9,374.1 L1537.4,373.2 L1537.9,372.5 L1538.4,373.2 L1538.9,375.8 L1539.4,376.3 L1539.9,374.8 L1540.4,375.3 L1540.9,373.4 L1541.4,373.8 L1541.9,374.1 L1542.4,372.6 L1542.9,372.6 L1543.4,373.7 L1543.9,373.2 L1544.4,372.3 L1544.9,373.8 L1545.4,373.0 L1545.9,374.3 L1546.4,373.1 L1546.9,372.7 L1547.4,373.1 L1547.9,372.7 L1548.4,372.0 L1548.9,372.2 L1549.4,373.4 L1549.9,373.2 L1550.4,373.8 L1550.9,370.4 L1551.4,371.8 L1551.9,371.6 L1552.4,372.2 L1552.9,371.4 L1553.4,371.2 L1553.9,372.5 L1554.4,371.8 L1554.9,370.2 L1555.4,372.8 L1555.9,372.3 L1556.4,370.5 L1556.9,371.9 L1557.4,370.1 L1557.9,372.0 L1558.4,370.4 L1558.9,369.6 L1559.4,370.0 L1559.9,369.4 L1560.4,370.3 L1560.9,370.2 L1561.4,369.9 L1561.9,369.1 L1562.4,365.6 L1562.9,369.6 L1563.4,367.3 L1563.9,369.5 L1564.4,370.3 L1564.9,369.2 L1565.4,368.4 L1565.9,368.5 L1566.4,368.4 L1566.9,367.8 L1567.4,367.6 L1567.9,367.1 L1568.4,369.3 L1568.9,367.8 L1569.4,368.7 L1569.9,367.3 L1570.4,367.5 L1570.9,367.1 L1571.4,367.6 L1571.9,367.9 L1572.4,367.1 L1572.9,365.9 L1573.4,365.7 L1573.9,368.2 L1574.4,365.9 L1574.9,365.8 L1575.4,367.6 L1575.9,367.0 L1576.4,366.2 L1576.9,365.1 L1577.4,367.9 L1577.9,365.6 L1578.4,365.6 L1578.9,364.7 L1579.4,363.2 L1579.9,363.1 L1580.4,364.9 L1580.9,364.7 L1581.4,363.9 L1581.9,362.7 L1582.4,362.3 L1582.9,363.3 L1583.4,361.9 L1583.9,364.3 L1584.4,364.4 L1584.9,366.1 L1585.4,363.7 L1585.9,361.9 L1586.4,361.4 L1586.9,358.3 L1587.4,361.2 L1587.9,361.5 L1588.4,362.5 L1588.9,361.8 L1589.4,361.6 L1589.9,360.9 L1590.4,361.1 L1590.9,361.7 L1591.4,358.7 L1591.9,359.1 L1592.4,357.8 L1592.9,360.9 L1593.4,360.2 L1593.9,359.4 L1594.4,356.9 L1594.9,358.2 L1595.4,357.4 L1595.9,357.5 L1596.4,356.9 L1596.9,357.4 L1597.4,356.2 L1597.9,357.3 L1598.4,356.3 L1598.9,355.5 L1599.4,355.4 L1599.9,354.8 L1600.4,355.9 L1600.9,354.4 L1601.4,354.8 L1601.9,353.8 L1602.4,352.4 L1602.9,354.7 L1603.4,352.4 L1603.9,354.0 L1604.4,353.5 L1604.9,351.0 L1605.4,351.6 L1605.9,351.9 L1606.4,351.3 L1606.9,350.8 L1607.4,352.7 L1607.9,351.5 L1608.4,352.0 L1608.9,350.9 L1609.4,351.6 L1609.9,350.3 L1610.4,351.0 L1610.9,351.6 L1611.4,350.9 L1611.9,350.2 L1612.4,349.5 L1612.9,350.8 L1613.4,350.9 L1613.9,350.2 L1614.4,349.7 L1614.9,351.1 L1615.4,353.2 L1615.9,350.2 L1616.4,350.9 L1616.9,351.0 L1617.4,347.9 L1617.9,350.9 L1618.4,350.1 L1618.9,352.5 L1619.4,350.8 L1619.9,350.3 L1620.4,351.1 L1620.9,351.6 L1621.4,351.0 L1621.9,351.7 L1622.4,350.4 L1622.9,351.8 L1623.4,353.1 L1623.9,354.6 L1624.4,353.4 L1624.9,353.1 L1625.4,354.2 L1625.9,354.2 L1626.4,355.1 L1626.9,354.6 L1627.4,353.5 L1627.9,354.1 L1628.4,354.1 L1628.9,354.4 L1629.4,354.4 L1629.9,353.5 L1630.4,352.2 L1630.9,353.9 L1631.4,352.5 L1631.9,354.9 L1632.4,355.0 L1632.9,353.2 L1633.4,355.9 L1633.9,356.2 L1634.4,355.4 L1634.9,357.2 L1635.4,357.5 L1635.9,354.2 L1636.4,356.8 L1636.9,356.2 L1637.4,356.3 L1637.9,356.9 L1638.4,355.2 L1638.9,355.4 L1639.4,355.2 L1639.9,355.4 L1640.4,356.2 L1640.9,354.8 L1641.4,355.3 L1641.9,357.2 L1642.4,356.5 L1642.9,357.1 L1643.4,354.7 L1643.9,356.0 L1644.4,356.3 L1644.9,357.0 L1645.4,356.4 L1645.9,358.2 L1646.4,357.1 L1646.9,357.3 L1647.4,357.3 L1647.9,358.1 L1648.4,356.9 L1648.9,358.7 L1649.4,358.0 L1649.9,357.7 L1650.4,357.7 L1650.9,358.2 L1651.4,358.8 L1651.9,358.8 L1652.4,358.2 L1652.9,358.8 L1653.4,358.0 L1653.9,359.2 L1654.4,357.8 L1654.9,355.6 L1655.4,359.4 L1655.9,358.0 L1656.4,356.6 L1656.9,357.7 L1657.4,356.9 L1657.9,360.1 L1658.4,358.3 L1658.9,356.0 L1659.4,358.2 L1659.9,357.1 L1660.4,359.5 L1660.9,356.2 L1661.4,354.7 L1661.9,357.1 L1662.4,356.5 L1662.9,356.3 L1663.4,354.2 L1663.9,356.9 L1664.4,358.1 L1664.9,353.9 L1665.4,357.1 L1665.9,355.0 L1666.4,358.0 L1666.9,355.7 L1667.4,354.8 L1667.9,356.0 L1668.4,355.1 L1668.9,353.7 L1669.4,354.9 L1669.9,353.3 L1670.4,351.7 L1670.9,355.7 L1671.4,352.8 L1671.9,352.3 L1672.4,353.2 L1672.9,350.9 L1673.4,350.9 L1673.9,351.6 L1674.4,351.4 L1674.9,351.8 L1675.4,352.7 L1675.9,350.7 L1676.4,351.5 L1676.9,351.4 L1677.4,349.2 L1677.9,350.3 L1678.4,348.7 L1678.9,350.6 L1679.4,349.6 L1679.9,348.8 L1680.4,347.0 L1680.9,348.2 L1681.4,346.9 L1681.9,348.2 L1682.4,347.0 L1682.9,345.9 L1683.4,347.6 L1683.9,347.1 L1684.4,345.3 L1684.9,347.0 L1685.4,345.2 L1685.9,345.0 L1686.4,345.3 L1686.9,344.1 L1687.4,344.3 L1687.9,344.5 L1688.4,346.3 L1688.9,346.3 L1689.4,344.3 L1689.9,346.4 L1690.4,344.7 L1690.9,345.2 L1691.4,345.9 L1691.9,345.5 L1692.4,348.0 L1692.9,345.9 L1693.4,344.5 L1693.9,347.6 L1694.4,346.0 L1694.9,346.4 L1695.4,343.8 L1695.9,348.6 L1696.4,348.8 L1696.9,349.2 L1697.4,349.8 L1697.9,351.0 L1698.4,349.5 L1698.9,351.0 L1699.4,349.6 L1699.9,350.5 L1700.4,352.5 L1700.9,352.2 L1701.4,350.8 L1701.9,353.1 L1702.4,352.9 L1702.9,352.7 L1703.4,354.5 L1703.9,354.0 L1704.4,353.1 L1704.9,354.0 L1705.4,357.5 L1705.9,354.3 L1706.4,356.5 L1706.9,357.2 L1707.4,357.6 L1707.9,355.8 L1708.4,357.0 L1708.9,357.7 L1709.4,358.6 L1709.9,357.2 L1710.4,356.7 L1710.9,359.2 L1711.4,359.4 L1711.9,358.7 L1712.4,357.8 L1712.9,359.0 L1713.4,358.8 L1713.9,359.6 L1714.4,357.4 L1714.9,359.0 L1715.4,358.8 L1715.9,357.9 L1716.4,359.4 L1716.9,359.3 L1717.4,358.9 L1717.9,359.9 L1718.4,357.9 L1718.9,359.5 L1719.4,360.1 L1719.9,360.0 L1720.4,361.0 L1720.9,358.5 L1721.4,358.2 L1721.9,360.2 L1722.4,360.5 L1722.9,362.4 L1723.4,360.8 L1723.9,359.2 L1724.4,361.1 L1724.9,359.4 L1725.4,358.7 L1725.9,363.3 L1726.4,360.8 L1726.9,361.3 L1727.4,361.2 L1727.9,362.6 L1728.4,361.0 L1728.9,362.1 L1729.4,359.6 L1729.9,359.3 L1730.4,362.4 L1730.9,362.5 L1731.4,361.5 L1731.9,361.2 L1732.4,361.2 L1732.9,360.3 L1733.4,362.8 L1733.9,361.9 L1734.4,361.8 L1734.9,361.6 L1735.4,362.4 L1735.9,361.9 L1736.4,362.2 L1736.9,360.1 L1737.4,362.0 L1737.9,363.8 L1738.4,360.9 L1738.9,361.3 L1739.4,362.5 L1739.9,362.6 L1740.4,362.3 L1740.9,359.8 L1741.4,362.2 L1741.9,360.4 L1742.4,360.8 L1742.9,362.3 L1743.4,361.4 L1743.9,362.6 L1744.4,365.2 L1744.9,362.7 L1745.4,362.6 L1745.9,360.9 L1746.4,361.2 L1746.9,360.7 L1747.4,361.3 L1747.9,360.7 L1748.4,361.2 L1748.9,361.8 L1749.4,360.9 L1749.9,360.5 L1750.4,360.6 L1750.9,362.6 L1751.4,362.2 L1751.9,363.3 L1752.4,363.3 L1752.9,361.8 L1753.4,363.0 L1753.9,360.7 L1754.4,364.8 L1754.9,363.6 L1755.4,362.1 L1755.9,361.1 L1756.4,362.8 L1756.9,360.4 L1757.4,361.6 L1757.9,363.3 L1758.4,362.6 L1758.9,362.1 L1759.4,363.7 L1759.9,361.5 L1760.4,363.0 L1760.9,362.2 L1761.4,361.9 L1761.9,363.4 L1762.4,361.8 L1762.9,365.0 L1763.4,362.3 L1763.9,365.2 L1764.4,361.9 L1764.9,363.8 L1765.4,361.9 L1765.9,361.8 L1766.4,363.6 L1766.9,364.2 L1767.4,362.2 L1767.9,365.0 L1768.4,362.9 L1768.9,364.0 L1769.4,364.4 L1769.9,364.8 L1770.4,362.3 L1770.9,366.2 L1771.4,365.1 L1771.9,364.2 L1772.4,363.6 L1772.9,363.0 L1773.4,363.5 L1773.9,365.8 L1774.4,364.9 L1774.9,364.2 L1775.4,365.0 L1775.9,367.5 L1776.4,365.5 L1776.9,365.4 L1777.4,367.7 L1777.9,366.8 L1778.4,366.5 L1778.9,365.9 L1779.4,365.0 L1779.9,365.6 L1780.4,366.5 L1780.9,366.9 L1781.4,367.7 L1781.9,368.0 L1782.4,367.8 L1782.9,367.9 L1783.4,366.7 L1783.9,365.5 L1784.4,367.4 L1784.9,367.1 L1785.4,367.5 L1785.9,368.0 L1786.4,367.0 L1786.9,367.3 L1787.4,368.5 L1787.9,368.8 L1788.4,368.0 L1788.9,369.3 L1789.4,368.6 L1789.9,367.8 L1790.4,369.0 L1790.9,371.0 L1791.4,368.3 L1791.9,370.3 L1792.4,370.6 L1792.9,370.7 L1793.4,368.2 L1793.9,371.4 L1794.4,369.3 L1794.9,369.0 L1795.4,369.0 L1795.9,370.0 L1796.4,369.4 L1796.9,369.2 L1797.4,370.8 L1797.9,368.6 L1798.4,368.3 L1798.9,370.3 L1799.4,370.3 L1799.9,370.7 L1800.4,368.3 L1800.9,370.7 L1801.4,370.1 L1801.9,371.5 L1802.4,368.2 L1802.9,369.9 L1803.4,369.4 L1803.9,367.9 L1804.4,368.9 L1804.9,371.0 L1805.4,369.2 L1805.9,369.0 L1806.4,370.7 L1806.9,370.9 L1807.4,370.9 L1807.9,369.0 L1808.4,369.8 L1808.9,371.0 L1809.4,369.2 L1809.9,369.1 L1810.4,370.8 L1810.9,371.7 L1811.4,368.7 L1811.9,367.1 L1812.4,368.4 L1812.9,368.9 L1813.4,369.9 L1813.9,370.7 L1814.4,369.9 L1814.9,369.3 L1815.4,370.3 L1815.9,369.0 L1816.4,370.1 L1816.9,369.4 L1817.4,373.1 L1817.9,371.1 L1818.4,369.3 L1818.9,369.1 L1819.4,369.8 L1819.9,368.4 L1820.4,369.5 L1820.9,369.5 L1821.4,371.3 L1821.9,369.9 L1822.4,369.5 L1822.9,368.9 L1823.4,369.1 L1823.9,370.4 L1824.4,370.2 L1824.9,371.7 L1825.4,369.8 L1825.9,371.7 L1826.4,370.8 L1826.9,370.6 L1827.4,368.4 L1827.9,369.2 L1828.4,371.5 L1828.9,372.2 L1829.4,371.0 L1829.9,371.6 L1830.4,370.4 L1830.9,370.4 L1831.4,370.1 L1831.9,372.0 L1832.4,371.3 L1832.9,370.7 L1833.4,370.7 L1833.9,371.7 L1834.4,371.4 L1834.9,370.2 L1835.4,373.1 L1835.9,371.5 L1836.4,371.3 L1836.9,372.9 L1837.4,372.5 L1837.9,371.3 L1838.4,372.0 L1838.9,370.3 L1839.4,370.8 L1839.9,369.1 L1840.4,372.9 L1840.9,369.6 L1841.4,372.4 L1841.9,370.8 L1842.4,370.7 L1842.9,371.6 L1843.4,372.2 L1843.9,372.6 L1844.4,373.9 L1844.9,372.4 L1845.4,373.0 L1845.9,371.5 L1846.4,373.0 L1846.9,372.4 L1847.4,371.8 L1847.9,372.2 L1848.4,372.3 L1848.9,372.6 L1849.4,372.9 L1849.9,372.0 L1850.4,371.8 L1850.9,373.4 L1851.4,370.8 L1851.9,372.0 L1852.4,374.5" fill="none" stroke="#0000FF" stroke-width="3.2" stroke-linejoin="round"/>
<path d="M1129.9,484.2 L1130.4,485.8 L1130.9,486.8 L1131.4,484.7 L1131.9,488.2 L1132.4,483.6 L1132.9,486.9 L1133.4,486.8 L1133.9,486.1 L1134.4,485.0 L1134.9,485.4 L1135.4,484.2 L1135.9,485.5 L1136.4,483.7 L1136.9,484.2 L1137.4,485.2 L1137.9,483.2 L1138.4,483.7 L1138.9,484.0 L1139.4,482.6 L1139.9,484.5 L1140.4,483.7 L1140.9,482.0 L1141.4,483.1 L1141.9,482.3 L1142.4,482.2 L1142.9,482.7 L1143.4,481.9 L1143.9,483.1 L1144.4,481.6 L1144.9,482.8 L1145.4,481.8 L1145.9,482.4 L1146.4,481.1 L1146.9,481.0 L1147.4,480.3 L1147.9,481.6 L1148.4,481.7 L1148.9,482.6 L1149.4,481.7 L1149.9,480.6 L1150.4,480.1 L1150.9,480.4 L1151.4,479.9 L1151.9,481.0 L1152.4,480.4 L1152.9,478.8 L1153.4,478.7 L1153.9,480.3 L1154.4,479.2 L1154.9,478.6 L1155.4,479.7 L1155.9,478.2 L1156.4,478.1 L1156.9,477.8 L1157.4,476.3 L1157.9,478.6 L1158.4,476.7 L1158.9,477.0 L1159.4,476.7 L1159.9,477.8 L1160.4,477.0 L1160.9,476.9 L1161.4,475.3 L1161.9,476.5 L1162.4,475.2 L1162.9,476.5 L1163.4,476.4 L1163.9,475.9 L1164.4,477.5 L1164.9,476.1 L1165.4,476.0 L1165.9,475.5 L1166.4,475.0 L1166.9,475.8 L1167.4,475.8 L1167.9,473.6 L1168.4,475.5 L1168.9,474.8 L1169.4,475.1 L1169.9,474.5 L1170.4,472.9 L1170.9,472.8 L1171.4,475.1 L1171.9,473.6 L1172.4,472.1 L1172.9,473.4 L1173.4,472.6 L1173.9,471.2 L1174.4,470.6 L1174.9,471.0 L1175.4,472.5 L1175.9,472.0 L1176.4,471.7 L1176.9,471.9 L1177.4,472.0 L1177.9,469.5 L1178.4,470.9 L1178.9,470.2 L1179.4,469.7 L1179.9,470.1 L1180.4,470.3 L1180.9,469.9 L1181.4,468.7 L1181.9,469.3 L1182.4,471.2 L1182.9,468.4 L1183.4,467.7 L1183.9,469.1 L1184.4,469.2 L1184.9,468.8 L1185.4,467.2 L1185.9,468.8 L1186.4,467.0 L1186.9,466.5 L1187.4,466.7 L1187.9,466.8 L1188.4,467.2 L1188.9,466.8 L1189.4,465.9 L1189.9,466.4 L1190.4,465.3 L1190.9,465.5 L1191.4,463.1 L1191.9,462.4 L1192.4,463.9 L1192.9,461.5 L1193.4,461.9 L1193.9,461.4 L1194.4,460.5 L1194.9,459.9 L1195.4,460.8 L1195.9,456.8 L1196.4,459.0 L1196.9,459.5 L1197.4,456.9 L1197.9,456.2 L1198.4,456.1 L1198.9,456.3 L1199.4,453.1 L1199.9,453.4 L1200.4,452.4 L1200.9,452.3 L1201.4,451.1 L1201.9,450.8 L1202.4,449.0 L1202.9,448.5 L1203.4,447.0 L1203.9,446.0 L1204.4,445.5 L1204.9,444.4 L1205.4,442.5 L1205.9,443.6 L1206.4,440.9 L1206.9,438.4 L1207.4,439.1 L1207.9,436.0 L1208.4,435.5 L1208.9,433.4 L1209.4,432.0 L1209.9,430.2 L1210.4,427.9 L1210.9,426.6 L1211.4,426.5 L1211.9,421.0 L1212.4,421.0 L1212.9,419.3 L1213.4,416.0 L1213.9,413.6 L1214.4,414.5 L1214.9,410.2 L1215.4,410.2 L1215.9,406.7 L1216.4,404.0 L1216.9,402.0 L1217.4,399.8 L1217.9,397.9 L1218.4,394.8 L1218.9,392.2 L1219.4,389.9 L1219.9,388.4 L1220.4,385.4 L1220.9,381.3 L1221.4,379.2 L1221.9,377.6 L1222.4,374.6 L1222.9,372.9 L1223.4,370.7 L1223.9,369.7 L1224.4,368.7 L1224.9,367.7 L1225.4,365.5 L1225.9,366.1 L1226.4,363.3 L1226.9,365.4 L1227.4,362.9 L1227.9,362.0 L1228.4,360.6 L1228.9,358.2 L1229.4,360.2 L1229.9,360.4 L1230.4,361.9 L1230.9,359.4 L1231.4,362.8 L1231.9,361.7 L1232.4,363.4 L1232.9,361.5 L1233.4,364.6 L1233.9,365.1 L1234.4,367.0 L1234.9,367.7 L1235.4,367.8 L1235.9,370.9 L1236.4,372.0 L1236.9,373.4 L1237.4,375.4 L1237.9,377.3 L1238.4,378.3 L1238.9,379.3 L1239.4,381.4 L1239.9,385.9 L1240.4,387.5 L1240.9,389.0 L1241.4,390.6 L1241.9,393.1 L1242.4,395.2 L1242.9,396.9 L1243.4,398.6 L1243.9,403.0 L1244.4,403.1 L1244.9,404.1 L1245.4,405.2 L1245.9,407.3 L1246.4,410.1 L1246.9,411.7 L1247.4,412.3 L1247.9,414.0 L1248.4,415.1 L1248.9,415.7 L1249.4,419.1 L1249.9,419.6 L1250.4,422.7 L1250.9,421.2 L1251.4,423.0 L1251.9,425.2 L1252.4,425.4 L1252.9,425.7 L1253.4,427.2 L1253.9,429.2 L1254.4,430.4 L1254.9,430.9 L1255.4,432.6 L1255.9,433.3 L1256.4,433.4 L1256.9,433.8 L1257.4,434.2 L1257.9,435.5 L1258.4,436.5 L1258.9,436.3 L1259.4,437.2 L1259.9,437.1 L1260.4,436.6 L1260.9,437.4 L1261.4,439.2 L1261.9,439.2 L1262.4,440.4 L1262.9,439.3 L1263.4,440.0 L1263.9,440.4 L1264.4,440.1 L1264.9,438.8 L1265.4,439.1 L1265.9,439.4 L1266.4,438.5 L1266.9,439.7 L1267.4,440.2 L1267.9,438.9 L1268.4,441.0 L1268.9,439.1 L1269.4,439.1 L1269.9,439.1 L1270.4,438.7 L1270.9,439.7 L1271.4,439.3 L1271.9,440.7 L1272.4,439.7 L1272.9,439.5 L1273.4,438.6 L1273.9,437.4 L1274.4,438.3 L1274.9,437.3 L1275.4,438.5 L1275.9,437.4 L1276.4,438.4 L1276.9,437.2 L1277.4,436.9 L1277.9,436.0 L1278.4,435.5 L1278.9,435.5 L1279.4,435.2 L1279.9,433.2 L1280.4,433.4 L1280.9,434.4 L1281.4,431.2 L1281.9,430.1 L1282.4,428.7 L1282.9,427.0 L1283.4,428.1 L1283.9,426.0 L1284.4,424.9 L1284.9,424.8 L1285.4,423.7 L1285.9,419.1 L1286.4,418.9 L1286.9,416.6 L1287.4,414.5 L1287.9,412.6 L1288.4,410.3 L1288.9,409.8 L1289.4,407.0 L1289.9,404.9 L1290.4,403.7 L1290.9,401.4 L1291.4,399.0 L1291.9,396.9 L1292.4,396.1 L1292.9,393.0 L1293.4,390.4 L1293.9,387.8 L1294.4,386.2 L1294.9,383.4 L1295.4,382.3 L1295.9,380.2 L1296.4,376.2 L1296.9,376.0 L1297.4,374.7 L1297.9,372.7 L1298.4,370.3 L1298.9,370.8 L1299.4,367.7 L1299.9,366.0 L1300.4,365.0 L1300.9,365.0 L1301.4,365.1 L1301.9,364.7 L1302.4,363.4 L1302.9,361.7 L1303.4,361.8 L1303.9,361.5 L1304.4,362.1 L1304.9,361.2 L1305.4,363.5 L1305.9,365.0 L1306.4,365.6 L1306.9,367.5 L1307.4,367.9 L1307.9,369.2 L1308.4,372.1 L1308.9,376.6 L1309.4,380.3 L1309.9,383.2 L1310.4,389.2 L1310.9,392.6 L1311.4,398.9 L1311.9,403.6 L1312.4,408.8 L1312.9,416.2 L1313.4,421.0 L1313.9,426.5 L1314.4,431.9 L1314.9,439.2 L1315.4,444.5 L1315.9,448.9 L1316.4,451.6 L1316.9,455.4 L1317.4,455.9 L1317.9,457.4 L1318.4,460.6 L1318.9,462.2 L1319.4,462.4 L1319.9,461.6 L1320.4,463.4 L1320.9,465.1 L1321.4,465.2 L1321.9,467.0 L1322.4,465.1 L1322.9,467.3 L1323.4,466.6 L1323.9,468.6 L1324.4,467.8 L1324.9,469.0 L1325.4,467.9 L1325.9,467.5 L1326.4,468.1 L1326.9,468.7 L1327.4,468.6 L1327.9,470.7 L1328.4,471.1 L1328.9,470.4 L1329.4,469.5 L1329.9,470.5 L1330.4,470.2 L1330.9,472.2 L1331.4,471.4 L1331.9,471.7 L1332.4,471.1 L1332.9,469.9 L1333.4,471.1 L1333.9,471.0 L1334.4,472.4 L1334.9,472.3 L1335.4,471.7 L1335.9,472.2 L1336.4,474.0 L1336.9,472.0 L1337.4,472.1 L1337.9,472.8 L1338.4,472.5 L1338.9,472.9 L1339.4,473.8 L1339.9,475.0 L1340.4,472.1 L1340.9,473.7 L1341.4,473.8 L1341.9,473.8 L1342.4,473.9 L1342.9,473.8 L1343.4,475.1 L1343.9,473.9 L1344.4,474.3 L1344.9,474.5 L1345.4,474.7 L1345.9,474.6 L1346.4,475.6 L1346.9,474.9 L1347.4,475.1 L1347.9,475.0 L1348.4,474.3 L1348.9,474.5 L1349.4,474.4 L1349.9,475.6 L1350.4,474.9 L1350.9,474.7 L1351.4,475.8 L1351.9,476.2 L1352.4,474.3 L1352.9,477.3 L1353.4,476.0 L1353.9,475.9 L1354.4,477.0 L1354.9,476.2 L1355.4,475.7 L1355.9,478.1 L1356.4,475.4 L1356.9,476.3 L1357.4,477.1 L1357.9,475.6 L1358.4,476.4 L1358.9,476.9 L1359.4,478.6 L1359.9,475.9 L1360.4,476.6 L1360.9,477.3 L1361.4,476.8 L1361.9,475.8 L1362.4,477.2 L1362.9,477.0 L1363.4,477.3 L1363.9,477.9 L1364.4,477.9 L1364.9,477.4 L1365.4,477.3 L1365.9,476.2 L1366.4,477.0 L1366.9,477.4 L1367.4,476.9 L1367.9,477.4 L1368.4,476.6 L1368.9,478.7 L1369.4,479.2 L1369.9,477.1 L1370.4,477.8 L1370.9,477.3 L1371.4,478.6 L1371.9,477.9 L1372.4,477.7 L1372.9,477.4 L1373.4,477.8 L1373.9,476.9 L1374.4,478.3 L1374.9,477.2 L1375.4,478.3 L1375.9,477.9 L1376.4,478.8 L1376.9,477.9 L1377.4,478.8 L1377.9,477.2 L1378.4,478.5 L1378.9,477.8 L1379.4,478.2 L1379.9,478.1 L1380.4,478.9 L1380.9,476.4 L1381.4,478.5 L1381.9,476.9 L1382.4,479.3 L1382.9,476.6 L1383.4,477.4 L1383.9,476.9 L1384.4,479.7 L1384.9,477.3 L1385.4,478.5 L1385.9,478.0 L1386.4,476.9 L1386.9,478.2 L1387.4,479.1 L1387.9,478.4 L1388.4,479.4 L1388.9,478.3 L1389.4,478.6 L1389.9,478.3 L1390.4,479.0 L1390.9,480.3 L1391.4,479.0 L1391.9,478.9 L1392.4,478.2 L1392.9,478.1 L1393.4,480.1 L1393.9,477.9 L1394.4,478.1 L1394.9,478.8 L1395.4,478.5 L1395.9,480.6 L1396.4,476.9 L1396.9,479.3 L1397.4,479.6 L1397.9,478.0 L1398.4,478.5 L1398.9,479.4 L1399.4,480.4 L1399.9,478.3 L1400.4,477.8 L1400.9,479.9 L1401.4,480.4 L1401.9,478.9 L1402.4,477.3 L1402.9,480.4 L1403.4,479.0 L1403.9,480.2 L1404.4,479.2 L1404.9,478.9 L1405.4,478.9 L1405.9,480.5 L1406.4,480.5 L1406.9,477.5 L1407.4,478.5 L1407.9,480.9 L1408.4,479.1 L1408.9,478.2 L1409.4,479.4 L1409.9,479.3 L1410.4,479.3 L1410.9,479.0 L1411.4,479.2 L1411.9,479.1 L1412.4,479.8 L1412.9,478.8 L1413.4,479.2 L1413.9,479.4 L1414.4,480.6 L1414.9,479.8 L1415.4,479.4 L1415.9,480.0 L1416.4,479.9 L1416.9,480.5 L1417.4,480.0 L1417.9,481.1 L1418.4,480.7 L1418.9,479.6 L1419.4,479.3 L1419.9,480.4 L1420.4,480.1 L1420.9,479.6 L1421.4,478.4 L1421.9,478.1 L1422.4,480.0 L1422.9,480.3 L1423.4,480.4 L1423.9,478.6 L1424.4,480.6 L1424.9,479.2 L1425.4,480.0 L1425.9,480.1 L1426.4,479.0 L1426.9,479.2 L1427.4,478.0 L1427.9,479.0 L1428.4,478.2 L1428.9,480.1 L1429.4,479.8 L1429.9,480.6 L1430.4,480.1 L1430.9,479.3 L1431.4,480.1 L1431.9,479.5 L1432.4,480.3 L1432.9,480.1 L1433.4,479.0 L1433.9,479.8 L1434.4,479.9 L1434.9,479.6 L1435.4,480.6 L1435.9,481.3 L1436.4,479.6 L1436.9,479.6 L1437.4,478.0 L1437.9,479.8 L1438.4,479.5 L1438.9,478.1 L1439.4,480.2 L1439.9,480.4 L1440.4,479.3 L1440.9,479.6 L1441.4,479.1 L1441.9,480.6 L1442.4,478.7 L1442.9,479.7 L1443.4,481.6 L1443.9,480.0 L1444.4,480.4 L1444.9,479.9 L1445.4,479.0 L1445.9,480.0 L1446.4,480.3 L1446.9,479.1 L1447.4,480.3 L1447.9,481.1 L1448.4,480.9 L1448.9,478.7 L1449.4,479.2 L1449.9,478.7 L1450.4,481.0 L1450.9,480.6 L1451.4,480.7 L1451.9,479.3 L1452.4,479.1 L1452.9,480.1 L1453.4,480.2 L1453.9,479.4 L1454.4,480.2 L1454.9,480.6 L1455.4,480.3 L1455.9,479.2 L1456.4,478.3 L1456.9,479.9 L1457.4,480.2 L1457.9,479.9 L1458.4,479.8 L1458.9,479.5 L1459.4,480.7 L1459.9,480.1 L1460.4,480.2 L1460.9,479.3 L1461.4,479.6 L1461.9,480.3 L1462.4,479.3 L1462.9,479.1 L1463.4,479.9 L1463.9,481.2 L1464.4,480.3 L1464.9,481.4 L1465.4,480.1 L1465.9,479.9 L1466.4,479.0 L1466.9,479.7 L1467.4,481.4 L1467.9,480.5 L1468.4,480.8 L1468.9,480.8 L1469.4,480.2 L1469.9,480.0 L1470.4,480.3 L1470.9,480.8 L1471.4,480.6 L1471.9,480.6 L1472.4,480.3 L1472.9,479.5 L1473.4,480.0 L1473.9,479.4 L1474.4,481.1 L1474.9,478.4 L1475.4,480.0 L1475.9,482.2 L1476.4,479.9 L1476.9,479.2 L1477.4,480.2 L1477.9,481.3 L1478.4,480.1 L1478.9,480.7 L1479.4,480.3 L1479.9,479.9 L1480.4,482.9 L1480.9,480.3 L1481.4,479.7 L1481.9,479.8 L1482.4,480.5 L1482.9,480.5 L1483.4,480.8 L1483.9,480.3 L1484.4,478.9 L1484.9,480.6 L1485.4,479.9 L1485.9,479.9 L1486.4,478.9 L1486.9,479.6 L1487.4,479.5 L1487.9,480.1 L1488.4,478.9 L1488.9,480.1 L1489.4,480.2 L1489.9,479.1 L1490.4,479.5 L1490.9,479.3 L1491.4,480.8 L1491.9,477.9 L1492.4,479.7 L1492.9,478.6 L1493.4,479.6 L1493.9,480.7 L1494.4,479.4 L1494.9,480.1 L1495.4,479.2 L1495.9,481.6 L1496.4,480.7 L1496.9,480.9 L1497.4,478.8 L1497.9,478.9 L1498.4,480.8 L1498.9,479.7 L1499.4,479.6 L1499.9,480.1 L1500.4,478.7 L1500.9,480.4 L1501.4,479.8 L1501.9,480.1 L1502.4,479.1 L1502.9,480.1 L1503.4,479.1 L1503.9,480.5 L1504.4,480.6 L1504.9,480.4 L1505.4,480.0 L1505.9,480.1 L1506.4,477.3 L1506.9,480.2 L1507.4,479.3 L1507.9,479.6 L1508.4,479.2 L1508.9,478.3 L1509.4,479.0 L1509.9,480.0 L1510.4,480.6 L1510.9,478.8 L1511.4,478.6 L1511.9,480.5 L1512.4,478.5 L1512.9,481.0 L1513.4,479.3 L1513.9,478.5 L1514.4,480.0 L1514.9,480.6 L1515.4,477.9 L1515.9,480.4 L1516.4,478.8 L1516.9,480.3 L1517.4,478.7 L1517.9,477.7 L1518.4,479.4 L1518.9,479.7 L1519.4,480.7 L1519.9,480.4 L1520.4,479.4 L1520.9,478.6 L1521.4,478.4 L1521.9,478.5 L1522.4,478.0 L1522.9,478.5 L1523.4,476.5 L1523.9,478.8 L1524.4,478.6 L1524.9,480.8 L1525.4,479.2 L1525.9,478.1 L1526.4,479.0 L1526.9,477.4 L1527.4,477.9 L1527.9,476.8 L1528.4,479.6 L1528.9,478.9 L1529.4,477.3 L1529.9,478.2 L1530.4,479.1 L1530.9,478.7 L1531.4,478.5 L1531.9,477.4 L1532.4,477.6 L1532.9,478.2 L1533.4,478.9 L1533.9,477.3 L1534.4,477.1 L1534.9,479.0 L1535.4,477.2 L1535.9,478.8 L1536.4,478.1 L1536.9,478.6 L1537.4,479.3 L1537.9,478.4 L1538.4,478.4 L1538.9,476.9 L1539.4,477.1 L1539.9,478.2 L1540.4,478.9 L1540.9,478.7 L1541.4,479.5 L1541.9,477.7 L1542.4,477.6 L1542.9,478.2 L1543.4,477.3 L1543.9,477.2 L1544.4,476.3 L1544.9,478.0 L1545.4,476.2 L1545.9,477.5 L1546.4,475.8 L1546.9,477.9 L1547.4,476.0 L1547.9,477.5 L1548.4,475.4 L1548.9,476.3 L1549.4,477.6 L1549.9,475.9 L1550.4,476.6 L1550.9,476.0 L1551.4,474.4 L1551.9,476.5 L1552.4,476.6 L1552.9,475.2 L1553.4,476.6 L1553.9,475.3 L1554.4,475.1 L1554.9,475.9 L1555.4,475.2 L1555.9,477.6 L1556.4,474.3 L1556.9,476.2 L1557.4,476.3 L1557.9,473.7 L1558.4,473.8 L1558.9,475.7 L1559.4,474.7 L1559.9,475.4 L1560.4,475.9 L1560.9,474.6 L1561.4,473.9 L1561.9,472.4 L1562.4,474.8 L1562.9,473.8 L1563.4,474.7 L1563.9,474.6 L1564.4,473.1 L1564.9,475.7 L1565.4,475.1 L1565.9,474.8 L1566.4,473.0 L1566.9,473.5 L1567.4,473.3 L1567.9,473.4 L1568.4,472.7 L1568.9,473.9 L1569.4,473.6 L1569.9,473.7 L1570.4,472.8 L1570.9,474.3 L1571.4,473.3 L1571.9,470.7 L1572.4,472.4 L1572.9,472.8 L1573.4,473.6 L1573.9,472.4 L1574.4,472.4 L1574.9,471.9 L1575.4,473.0 L1575.9,471.9 L1576.4,471.7 L1576.9,471.5 L1577.4,472.5 L1577.9,471.5 L1578.4,470.5 L1578.9,472.4 L1579.4,471.1 L1579.9,472.0 L1580.4,471.9 L1580.9,472.5 L1581.4,472.3 L1581.9,470.9 L1582.4,471.1 L1582.9,470.1 L1583.4,472.5 L1583.9,471.4 L1584.4,472.1 L1584.9,470.6 L1585.4,469.0 L1585.9,472.0 L1586.4,470.6 L1586.9,470.6 L1587.4,470.4 L1587.9,470.8 L1588.4,470.6 L1588.9,468.7 L1589.4,470.9 L1589.9,469.4 L1590.4,469.4 L1590.9,471.1 L1591.4,470.3 L1591.9,469.1 L1592.4,467.7 L1592.9,469.3 L1593.4,469.6 L1593.9,468.9 L1594.4,467.8 L1594.9,468.1 L1595.4,467.6 L1595.9,468.7 L1596.4,469.1 L1596.9,469.2 L1597.4,467.6 L1597.9,468.3 L1598.4,468.5 L1598.9,467.5 L1599.4,467.7 L1599.9,469.5 L1600.4,467.8 L1600.9,468.2 L1601.4,467.0 L1601.9,467.3 L1602.4,465.7 L1602.9,467.1 L1603.4,468.0 L1603.9,468.7 L1604.4,467.8 L1604.9,467.3 L1605.4,466.7 L1605.9,466.0 L1606.4,466.3 L1606.9,466.9 L1607.4,465.6 L1607.9,467.0 L1608.4,465.3 L1608.9,464.6 L1609.4,465.1 L1609.9,464.5 L1610.4,464.7 L1610.9,466.8 L1611.4,465.6 L1611.9,465.9 L1612.4,466.6 L1612.9,466.7 L1613.4,465.2 L1613.9,466.7 L1614.4,465.8 L1614.9,465.5 L1615.4,465.8 L1615.9,464.2 L1616.4,464.8 L1616.9,465.3 L1617.4,465.9 L1617.9,465.1 L1618.4,465.3 L1618.9,466.2 L1619.4,466.6 L1619.9,466.1 L1620.4,466.5 L1620.9,465.1 L1621.4,465.2 L1621.9,465.7 L1622.4,465.2 L1622.9,465.0 L1623.4,466.9 L1623.9,465.3 L1624.4,464.7 L1624.9,465.9 L1625.4,467.1 L1625.9,465.6 L1626.4,466.6 L1626.9,465.2 L1627.4,465.2 L1627.9,465.0 L1628.4,465.5 L1628.9,467.2 L1629.4,464.7 L1629.9,467.1 L1630.4,464.9 L1630.9,465.6 L1631.4,466.5 L1631.9,466.4 L1632.4,466.1 L1632.9,464.5 L1633.4,466.2 L1633.9,465.1 L1634.4,468.1 L1634.9,465.8 L1635.4,466.2 L1635.9,465.1 L1636.4,465.6 L1636.9,465.0 L1637.4,466.9 L1637.9,465.9 L1638.4,466.6 L1638.9,465.6 L1639.4,465.8 L1639.9,467.3 L1640.4,465.4 L1640.9,464.8 L1641.4,466.7 L1641.9,465.4 L1642.4,466.0 L1642.9,467.2 L1643.4,465.7 L1643.9,467.2 L1644.4,465.9 L1644.9,467.8 L1645.4,467.6 L1645.9,466.1 L1646.4,466.4 L1646.9,465.9 L1647.4,466.8 L1647.9,467.6 L1648.4,465.4 L1648.9,467.4 L1649.4,465.5 L1649.9,466.0 L1650.4,465.2 L1650.9,468.5 L1651.4,466.8 L1651.9,467.0 L1652.4,466.2 L1652.9,467.7 L1653.4,465.0 L1653.9,466.8 L1654.4,468.7 L1654.9,466.5 L1655.4,466.8 L1655.9,467.4 L1656.4,466.1 L1656.9,466.8 L1657.4,467.6 L1657.9,466.9 L1658.4,467.1 L1658.9,466.4 L1659.4,467.0 L1659.9,466.7 L1660.4,467.9 L1660.9,467.2 L1661.4,466.3 L1661.9,464.4 L1662.4,467.0 L1662.9,467.0 L1663.4,465.5 L1663.9,464.5 L1664.4,465.2 L1664.9,466.9 L1665.4,465.1 L1665.9,465.5 L1666.4,466.0 L1666.9,466.8 L1667.4,465.6 L1667.9,465.5 L1668.4,465.0 L1668.9,466.8 L1669.4,466.2 L1669.9,465.1 L1670.4,463.9 L1670.9,464.3 L1671.4,465.4 L1671.9,464.2 L1672.4,465.4 L1672.9,464.9 L1673.4,464.7 L1673.9,464.9 L1674.4,464.7 L1674.9,463.5 L1675.4,463.8 L1675.9,466.0 L1676.4,462.9 L1676.9,463.4 L1677.4,464.6 L1677.9,463.5 L1678.4,462.8 L1678.9,462.3 L1679.4,463.8 L1679.9,464.1 L1680.4,464.4 L1680.9,463.2 L1681.4,463.9 L1681.9,462.1 L1682.4,463.0 L1682.9,462.3 L1683.4,462.9 L1683.9,463.3 L1684.4,463.6 L1684.9,461.8 L1685.4,463.6 L1685.9,462.1 L1686.4,461.6 L1686.9,462.3 L1687.4,461.2 L1687.9,462.4 L1688.4,462.7 L1688.9,462.2 L1689.4,462.9 L1689.9,462.1 L1690.4,462.4 L1690.9,461.2 L1691.4,462.5 L1691.9,461.8 L1692.4,462.2 L1692.9,462.5 L1693.4,462.9 L1693.9,461.4 L1694.4,461.5 L1694.9,462.7 L1695.4,463.4 L1695.9,463.4 L1696.4,464.0 L1696.9,464.4 L1697.4,463.8 L1697.9,463.5 L1698.4,462.8 L1698.9,463.0 L1699.4,463.5 L1699.9,464.2 L1700.4,464.3 L1700.9,464.3 L1701.4,464.3 L1701.9,465.1 L1702.4,464.9 L1702.9,465.1 L1703.4,465.3 L1703.9,464.7 L1704.4,464.4 L1704.9,465.9 L1705.4,465.9 L1705.9,465.5 L1706.4,465.5 L1706.9,468.0 L1707.4,465.5 L1707.9,466.1 L1708.4,466.7 L1708.9,465.6 L1709.4,466.8 L1709.9,468.4 L1710.4,467.8 L1710.9,467.7 L1711.4,467.8 L1711.9,467.5 L1712.4,468.4 L1712.9,467.5 L1713.4,467.4 L1713.9,468.0 L1714.4,468.8 L1714.9,468.4 L1715.4,468.8 L1715.9,466.6 L1716.4,469.4 L1716.9,470.5 L1717.4,469.7 L1717.9,468.4 L1718.4,468.0 L1718.9,469.1 L1719.4,468.1 L1719.9,469.6 L1720.4,468.7 L1720.9,470.0 L1721.4,470.5 L1721.9,467.7 L1722.4,469.7 L1722.9,469.0 L1723.4,468.5 L1723.9,469.2 L1724.4,469.7 L1724.9,470.8 L1725.4,468.7 L1725.9,471.0 L1726.4,471.9 L1726.9,470.8 L1727.4,470.8 L1727.9,470.5 L1728.4,469.6 L1728.9,471.1 L1729.4,471.1 L1729.9,471.4 L1730.4,473.1 L1730.9,471.6 L1731.4,471.4 L1731.9,472.5 L1732.4,470.1 L1732.9,470.3 L1733.4,471.1 L1733.9,470.9 L1734.4,472.1 L1734.9,471.3 L1735.4,473.1 L1735.9,473.0 L1736.4,472.5 L1736.9,471.5 L1737.4,472.5 L1737.9,472.7 L1738.4,471.2 L1738.9,472.4 L1739.4,472.8 L1739.9,472.4 L1740.4,473.6 L1740.9,473.4 L1741.4,471.7 L1741.9,472.6 L1742.4,471.8 L1742.9,473.1 L1743.4,471.9 L1743.9,473.4 L1744.4,473.0 L1744.9,473.6 L1745.4,472.7 L1745.9,471.6 L1746.4,474.4 L1746.9,472.7 L1747.4,474.1 L1747.9,473.3 L1748.4,473.5 L1748.9,474.6 L1749.4,473.3 L1749.9,474.2 L1750.4,471.8 L1750.9,473.8 L1751.4,472.9 L1751.9,473.0 L1752.4,473.2 L1752.9,473.5 L1753.4,474.6 L1753.9,471.6 L1754.4,473.3 L1754.9,472.6 L1755.4,474.3 L1755.9,472.9 L1756.4,473.7 L1756.9,473.0 L1757.4,473.9 L1757.9,474.2 L1758.4,473.1 L1758.9,473.5 L1759.4,472.2 L1759.9,473.7 L1760.4,474.2 L1760.9,473.1 L1761.4,474.5 L1761.9,471.8 L1762.4,472.0 L1762.9,472.5 L1763.4,473.3 L1763.9,473.7 L1764.4,473.7 L1764.9,473.8 L1765.4,474.5 L1765.9,473.6 L1766.4,472.9 L1766.9,473.0 L1767.4,476.0 L1767.9,472.3 L1768.4,474.2 L1768.9,475.7 L1769.4,474.9 L1769.9,473.9 L1770.4,474.7 L1770.9,475.6 L1771.4,476.0 L1771.9,474.3 L1772.4,475.8 L1772.9,475.5 L1773.4,476.3 L1773.9,476.7 L1774.4,475.4 L1774.9,474.5 L1775.4,476.2 L1775.9,477.5 L1776.4,476.7 L1776.9,476.5 L1777.4,478.4 L1777.9,475.6 L1778.4,477.4 L1778.9,476.3 L1779.4,476.9 L1779.9,477.1 L1780.4,478.4 L1780.9,476.4 L1781.4,476.9 L1781.9,476.1 L1782.4,478.0 L1782.9,477.3 L1783.4,478.1 L1783.9,476.9 L1784.4,477.6 L1784.9,478.9 L1785.4,478.0 L1785.9,478.7 L1786.4,478.7 L1786.9,478.1 L1787.4,477.1 L1787.9,479.3 L1788.4,478.7 L1788.9,479.4 L1789.4,476.9 L1789.9,477.3 L1790.4,476.9 L1790.9,478.0 L1791.4,479.7 L1791.9,479.3 L1792.4,478.8 L1792.9,479.0 L1793.4,479.5 L1793.9,478.7 L1794.4,479.3 L1794.9,479.1 L1795.4,477.2 L1795.9,478.7 L1796.4,480.2 L1796.9,478.8 L1797.4,479.0 L1797.9,478.6 L1798.4,478.8 L1798.9,480.2 L1799.4,479.0 L1799.9,478.4 L1800.4,476.7 L1800.9,478.8 L1801.4,477.7 L1801.9,477.8 L1802.4,480.1 L1802.9,480.0 L1803.4,477.8 L1803.9,480.2 L1804.4,479.9 L1804.9,478.9 L1805.4,480.2 L1805.9,478.2 L1806.4,478.6 L1806.9,478.4 L1807.4,478.7 L1807.9,480.4 L1808.4,478.6 L1808.9,478.8 L1809.4,478.9 L1809.9,479.9 L1810.4,479.5 L1810.9,480.6 L1811.4,479.2 L1811.9,478.8 L1812.4,479.5 L1812.9,479.9 L1813.4,479.1 L1813.9,480.2 L1814.4,481.5 L1814.9,479.5 L1815.4,480.0 L1815.9,481.2 L1816.4,479.5 L1816.9,479.3 L1817.4,479.2 L1817.9,480.4 L1818.4,480.6 L1818.9,480.0 L1819.4,480.2 L1819.9,481.3 L1820.4,480.9 L1820.9,479.0 L1821.4,480.2 L1821.9,480.3 L1822.4,480.9 L1822.9,480.1 L1823.4,479.7 L1823.9,479.9 L1824.4,478.8 L1824.9,480.3 L1825.4,479.8 L1825.9,480.8 L1826.4,479.5 L1826.9,480.0 L1827.4,479.6 L1827.9,479.5 L1828.4,481.0 L1828.9,480.0 L1829.4,480.8 L1829.9,479.5 L1830.4,480.6 L1830.9,479.1 L1831.4,480.1 L1831.9,480.1 L1832.4,481.0 L1832.9,480.7 L1833.4,480.4 L1833.9,481.3 L1834.4,480.7 L1834.9,481.0 L1835.4,481.2 L1835.9,480.5 L1836.4,480.4 L1836.9,480.9 L1837.4,480.3 L1837.9,481.0 L1838.4,481.6 L1838.9,481.4 L1839.4,480.3 L1839.9,479.6 L1840.4,480.6 L1840.9,480.6 L1841.4,481.6 L1841.9,480.4 L1842.4,480.5 L1842.9,481.3 L1843.4,480.3 L1843.9,480.6 L1844.4,482.2 L1844.9,482.0 L1845.4,481.3 L1845.9,481.0 L1846.4,479.9 L1846.9,481.2 L1847.4,480.8 L1847.9,480.9 L1848.4,480.3 L1848.9,480.7 L1849.4,480.6 L1849.9,481.0 L1850.4,482.0 L1850.9,481.1 L1851.4,479.4 L1851.9,479.9 L1852.4,479.4" fill="none" stroke="#000000" stroke-width="2.8" stroke-linejoin="round"/>
<rect x="1129.3" y="2.6" width="723.7" height="496.5" fill="none" stroke="#000" stroke-width="2.2"/>
<g stroke="#000" stroke-width="2.1"><line x1="1129.3" y1="449.5" x2="1137.8" y2="449.5"/><line x1="1129.3" y1="399.8" x2="1137.8" y2="399.8"/><line x1="1129.3" y1="350.2" x2="1137.8" y2="350.2"/><line x1="1129.3" y1="300.5" x2="1137.8" y2="300.5"/><line x1="1129.3" y1="250.9" x2="1137.8" y2="250.9"/><line x1="1129.3" y1="201.2" x2="1137.8" y2="201.2"/><line x1="1129.3" y1="151.6" x2="1137.8" y2="151.6"/><line x1="1129.3" y1="101.9" x2="1137.8" y2="101.9"/><line x1="1129.3" y1="52.3" x2="1137.8" y2="52.3"/><line x1="1201.0" y1="499.1" x2="1201.0" y2="494.1"/><line x1="1273.5" y1="499.1" x2="1273.5" y2="489.6"/><line x1="1346.0" y1="499.1" x2="1346.0" y2="494.1"/><line x1="1418.5" y1="499.1" x2="1418.5" y2="489.6"/><line x1="1491.0" y1="499.1" x2="1491.0" y2="494.1"/><line x1="1563.5" y1="499.1" x2="1563.5" y2="489.6"/><line x1="1636.0" y1="499.1" x2="1636.0" y2="494.1"/><line x1="1708.5" y1="499.1" x2="1708.5" y2="489.6"/><line x1="1781.0" y1="499.1" x2="1781.0" y2="494.1"/></g>
<g font-size="31.5"><text x="1128.5" y="537.9" text-anchor="middle">1000</text><text x="1273.5" y="537.9" text-anchor="middle">1500</text><text x="1418.5" y="537.9" text-anchor="middle">2000</text><text x="1563.5" y="537.9" text-anchor="middle">2500</text><text x="1708.5" y="537.9" text-anchor="middle">3000</text><text x="1853.5" y="537.9" text-anchor="middle">3500</text></g>
<text x="1346.5" y="582.3" font-size="38.4">Raman shift (cm<tspan font-size="21" dy="-19">-1</tspan><tspan dy="19" dx="0.8">)</tspan></text>
<text transform="translate(1101,420.5) rotate(-90)" font-size="38.2">Intensity (Arb. units)</text>
<text x="1795" y="47.5" font-size="44.5">(b)</text>
<g stroke-width="1.9"><line x1="1135.5" y1="71.6" x2="1229.3" y2="71.6" stroke="#0c0caa"/><line x1="1229.8" y1="71.6" x2="1229.8" y2="422" stroke="#0c0caa" stroke-width="2.1"/><line x1="1296.8" y1="108.2" x2="1462" y2="108.2" stroke="#980892"/><line x1="1297.1" y1="108" x2="1297.1" y2="366" stroke="#980892"/><line x1="1304.3" y1="348.5" x2="1304.3" y2="444.5" stroke="#9a149a"/></g>
<circle cx="1228.9" cy="71.4" r="3.7" fill="#0c0caa"/><circle cx="1296.7" cy="108" r="3.7" fill="#980892"/>
<g stroke="#000" stroke-width="1.9"><line x1="1618.2" y1="235" x2="1618.2" y2="273.5"/><line x1="1618.2" y1="334.6" x2="1618.2" y2="484.4"/><line x1="1689.8" y1="206.5" x2="1689.8" y2="478"/><line x1="1765.2" y1="246.7" x2="1765.2" y2="382.2"/><line x1="1765.2" y1="439.7" x2="1765.2" y2="484.4"/></g>
<g font-size="27.7"><text x="1141.4" y="64.5" fill="#10108f">D band</text><text x="1154.9" y="95.4" fill="#10108f">1345</text><text x="1327" y="102" fill="#880088">G band</text><text x="1311.2" y="135.6" fill="#880088">1581 <tspan font-family='Noto Sans CJK JP' dx='-1' dy='3'>→</tspan><tspan dy='-3'> 1605</tspan></text><text x="1628.1" y="172.7" fill="#008b8b">D+D' band</text><text x="1660.6" y="198.6" fill="#008b8b">2935</text><text x="1571.4" y="299" fill="#008b8b">2D band</text><text x="1590.9" y="324.7" fill="#008b8b">2685</text><text x="1713.8" y="409.3" fill="#008b8b">2D' band</text><text x="1735.8" y="434.3" fill="#008b8b">3202</text></g>
<text x="1323.2" y="245.6" font-size="27.6">rGO-Am</text><text font-size="27.6"><tspan x="1438.6" y="245.6">I</tspan><tspan x="1448.1" y="255.8" font-size="16.5">D</tspan><tspan x="1459.7" y="245.6">/</tspan><tspan x="1466.8" y="245.6">I</tspan><tspan x="1476.2" y="255.8" font-size="16.5">G</tspan><tspan x="1487.9" y="245.6">=</tspan><tspan x="1511.6" y="245.6">1.14</tspan></text>
<text x="1331.1" y="355.6" font-size="27.6">rGO-Br</text><text font-size="27.6"><tspan x="1440.3" y="355.6">I</tspan><tspan x="1449.8" y="365.8" font-size="16.5">D</tspan><tspan x="1461.4" y="355.6">/</tspan><tspan x="1468.6" y="355.6">I</tspan><tspan x="1477.9" y="365.8" font-size="16.5">G</tspan><tspan x="1488.9" y="355.6">=</tspan><tspan x="1513.4" y="355.6">1.1</tspan></text>
<text x="1354.1" y="458.3" font-size="27.6">GO</text><text font-size="27.6"><tspan x="1438.9" y="458.3">I</tspan><tspan x="1448.5" y="468.5" font-size="16.5">D</tspan><tspan x="1460.0" y="458.3">/</tspan><tspan x="1467.9" y="458.3">I</tspan><tspan x="1476.5" y="468.5" font-size="16.5">G</tspan><tspan x="1488.3" y="458.3">=</tspan><tspan x="1512.0" y="458.3">1.01</tspan></text>
</g>
</svg>
</body></html>
